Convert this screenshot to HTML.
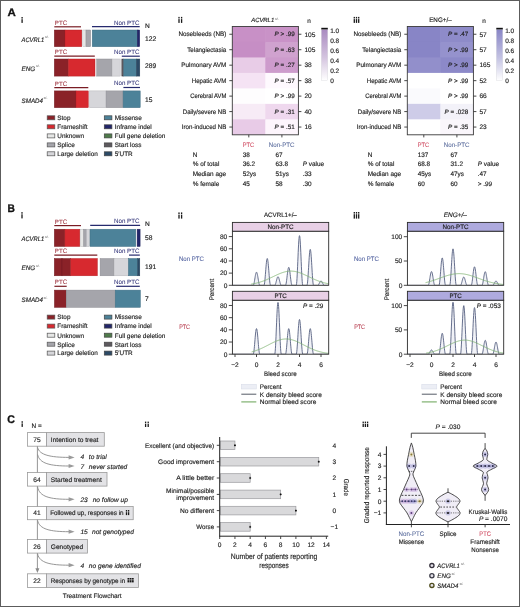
<!DOCTYPE html>
<html><head><meta charset="utf-8"><style>
html,body{margin:0;padding:0;background:#fff;}
body{width:520px;height:607px;overflow:hidden;}
svg{display:block;will-change:transform;text-rendering:geometricPrecision;font-family:"Liberation Sans", sans-serif;}
</style></head><body>
<svg width="520" height="607" viewBox="0 0 520 607">
<rect x="0" y="0" width="520" height="607" fill="#ffffff"/>
<text x="7.40" y="15.70" font-size="11.0" font-weight="bold" fill="#111" stroke="#111" stroke-width="0.3" textLength="8.3" lengthAdjust="spacingAndGlyphs">A</text>
<text x="7.60" y="212.20" font-size="11.0" font-weight="bold" fill="#111" stroke="#111" stroke-width="0.3" textLength="7.4" lengthAdjust="spacingAndGlyphs">B</text>
<text x="7.20" y="422.60" font-size="11.0" font-weight="bold" fill="#111" stroke="#111" stroke-width="0.3" textLength="7.7" lengthAdjust="spacingAndGlyphs">C</text>
<rect x="21.45" y="17.00" width="1.30" height="1.6" fill="#1a1a1a"/>
<rect x="21.45" y="19.20" width="1.30" height="3.70" fill="#1a1a1a"/>
<rect x="21.35" y="212.10" width="1.30" height="1.6" fill="#1a1a1a"/>
<rect x="21.35" y="214.30" width="1.30" height="4.10" fill="#1a1a1a"/>
<rect x="21.55" y="421.20" width="1.30" height="1.6" fill="#1a1a1a"/>
<rect x="21.55" y="423.40" width="1.30" height="3.50" fill="#1a1a1a"/>
<rect x="178.35" y="16.90" width="1.30" height="1.6" fill="#1a1a1a"/>
<rect x="178.35" y="19.10" width="1.30" height="3.80" fill="#1a1a1a"/>
<rect x="180.95" y="16.90" width="1.30" height="1.6" fill="#1a1a1a"/>
<rect x="180.95" y="19.10" width="1.30" height="3.80" fill="#1a1a1a"/>
<rect x="353.65" y="16.90" width="1.30" height="1.6" fill="#1a1a1a"/>
<rect x="353.65" y="19.10" width="1.30" height="3.80" fill="#1a1a1a"/>
<rect x="355.85" y="16.90" width="1.30" height="1.6" fill="#1a1a1a"/>
<rect x="355.85" y="19.10" width="1.30" height="3.80" fill="#1a1a1a"/>
<rect x="358.05" y="16.90" width="1.30" height="1.6" fill="#1a1a1a"/>
<rect x="358.05" y="19.10" width="1.30" height="3.80" fill="#1a1a1a"/>
<rect x="178.35" y="212.40" width="1.30" height="1.6" fill="#1a1a1a"/>
<rect x="178.35" y="214.60" width="1.30" height="4.00" fill="#1a1a1a"/>
<rect x="180.95" y="212.40" width="1.30" height="1.6" fill="#1a1a1a"/>
<rect x="180.95" y="214.60" width="1.30" height="4.00" fill="#1a1a1a"/>
<rect x="353.65" y="212.00" width="1.30" height="1.6" fill="#1a1a1a"/>
<rect x="353.65" y="214.20" width="1.30" height="4.40" fill="#1a1a1a"/>
<rect x="355.85" y="212.00" width="1.30" height="1.6" fill="#1a1a1a"/>
<rect x="355.85" y="214.20" width="1.30" height="4.40" fill="#1a1a1a"/>
<rect x="358.05" y="212.00" width="1.30" height="1.6" fill="#1a1a1a"/>
<rect x="358.05" y="214.20" width="1.30" height="4.40" fill="#1a1a1a"/>
<rect x="144.95" y="421.60" width="1.30" height="1.6" fill="#1a1a1a"/>
<rect x="144.95" y="423.80" width="1.30" height="3.20" fill="#1a1a1a"/>
<rect x="147.55" y="421.60" width="1.30" height="1.6" fill="#1a1a1a"/>
<rect x="147.55" y="423.80" width="1.30" height="3.20" fill="#1a1a1a"/>
<rect x="362.55" y="421.60" width="1.30" height="1.6" fill="#1a1a1a"/>
<rect x="362.55" y="423.80" width="1.30" height="3.20" fill="#1a1a1a"/>
<rect x="364.75" y="421.60" width="1.30" height="1.6" fill="#1a1a1a"/>
<rect x="364.75" y="423.80" width="1.30" height="3.20" fill="#1a1a1a"/>
<rect x="366.95" y="421.60" width="1.30" height="1.6" fill="#1a1a1a"/>
<rect x="366.95" y="423.80" width="1.30" height="3.20" fill="#1a1a1a"/>
<text x="21.50" y="41.65" font-size="6.4" fill="#1e1e1e" font-style="italic" textLength="22.70" lengthAdjust="spacingAndGlyphs" stroke="#1e1e1e" stroke-width="0.15">ACVRL1</text>
<text x="45.00" y="38.15" font-size="3.0" fill="#555" font-style="italic" stroke="#555" stroke-width="0.08">+/-</text>
<rect x="54.30" y="30.00" width="10.70" height="16.70" fill="#8a2228" stroke="#6e1a1f" stroke-width="0.45"/>
<rect x="65.00" y="30.00" width="16.80" height="16.70" fill="#d7292f" stroke="#b32227" stroke-width="0.45"/>
<rect x="82.80" y="30.00" width="3.20" height="16.70" fill="#e6e7e6" stroke="#b8b8b8" stroke-width="0.45"/>
<rect x="86.00" y="30.00" width="4.70" height="16.70" fill="#a5a5ab" stroke="#8a8a90" stroke-width="0.45"/>
<rect x="92.20" y="30.00" width="45.10" height="16.70" fill="#4c8299" stroke="#3d6b80" stroke-width="0.45"/>
<rect x="137.30" y="30.00" width="2.40" height="16.70" fill="#22266a" stroke="#181b55" stroke-width="0.45"/>
<line x1="54.30" y1="26.80" x2="81.00" y2="26.80" stroke="#7a1c24" stroke-width="1.2"/>
<text x="54.80" y="24.70" font-size="6.3" text-anchor="start" fill="#a23a44" textLength="12.30" lengthAdjust="spacingAndGlyphs" stroke="#a23a44" stroke-width="0.08">PTC</text>
<line x1="92.00" y1="26.60" x2="139.70" y2="26.60" stroke="#262a6e" stroke-width="1.2"/>
<text x="139.40" y="24.50" font-size="6.3" text-anchor="end" fill="#3e4080" textLength="25.40" lengthAdjust="spacingAndGlyphs" stroke="#3e4080" stroke-width="0.08">Non PTC</text>
<text x="145.00" y="40.65" font-size="6.7" text-anchor="start" fill="#1e1e1e" stroke="#1e1e1e" stroke-width="0.15">122</text>
<text x="21.60" y="70.85" font-size="6.4" fill="#1e1e1e" font-style="italic" textLength="13.60" lengthAdjust="spacingAndGlyphs" stroke="#1e1e1e" stroke-width="0.15">ENG</text>
<text x="36.00" y="67.35" font-size="3.0" fill="#555" font-style="italic" stroke="#555" stroke-width="0.08">+/-</text>
<rect x="54.30" y="59.00" width="14.00" height="17.10" fill="#8a2228" stroke="#6e1a1f" stroke-width="0.45"/>
<rect x="68.30" y="59.00" width="26.70" height="17.10" fill="#d7292f" stroke="#b32227" stroke-width="0.45"/>
<rect x="96.70" y="59.00" width="15.30" height="17.10" fill="#a5a5ab" stroke="#8a8a90" stroke-width="0.45"/>
<rect x="112.00" y="59.00" width="8.20" height="17.10" fill="#d6d6da" stroke="#b0b0b4" stroke-width="0.45"/>
<rect x="121.80" y="59.00" width="1.80" height="17.10" fill="#5d595e" stroke="#4a474b" stroke-width="0.45"/>
<rect x="123.60" y="59.00" width="12.90" height="17.10" fill="#4c8299" stroke="#3d6b80" stroke-width="0.45"/>
<rect x="136.50" y="59.00" width="3.30" height="17.10" fill="#2c4a66" stroke="#213a52" stroke-width="0.45"/>
<line x1="54.30" y1="56.20" x2="94.80" y2="56.20" stroke="#7a1c24" stroke-width="1.2"/>
<text x="54.80" y="54.10" font-size="6.3" text-anchor="start" fill="#a23a44" textLength="12.30" lengthAdjust="spacingAndGlyphs" stroke="#a23a44" stroke-width="0.08">PTC</text>
<line x1="121.80" y1="56.20" x2="139.80" y2="56.20" stroke="#262a6e" stroke-width="1.2"/>
<text x="139.40" y="54.10" font-size="6.3" text-anchor="end" fill="#3e4080" textLength="25.40" lengthAdjust="spacingAndGlyphs" stroke="#3e4080" stroke-width="0.08">Non PTC</text>
<text x="145.00" y="67.85" font-size="6.7" text-anchor="start" fill="#1e1e1e" stroke="#1e1e1e" stroke-width="0.15">289</text>
<text x="21.60" y="102.60" font-size="6.4" fill="#1e1e1e" font-style="italic" textLength="21.40" lengthAdjust="spacingAndGlyphs" stroke="#1e1e1e" stroke-width="0.15">SMAD4</text>
<text x="43.60" y="99.10" font-size="3.0" fill="#555" font-style="italic" stroke="#555" stroke-width="0.08">+/-</text>
<rect x="54.30" y="90.90" width="21.70" height="16.80" fill="#8a2228" stroke="#6e1a1f" stroke-width="0.45"/>
<rect x="76.00" y="90.90" width="12.30" height="16.80" fill="#d7292f" stroke="#b32227" stroke-width="0.45"/>
<rect x="89.70" y="90.90" width="16.40" height="16.80" fill="#d6d6da" stroke="#b0b0b4" stroke-width="0.45"/>
<rect x="106.10" y="90.90" width="17.00" height="16.80" fill="#a5a5ab" stroke="#8a8a90" stroke-width="0.45"/>
<rect x="123.10" y="90.90" width="17.10" height="16.80" fill="#4c8299" stroke="#3d6b80" stroke-width="0.45"/>
<line x1="54.30" y1="87.70" x2="88.30" y2="87.70" stroke="#7a1c24" stroke-width="1.2"/>
<text x="54.80" y="85.60" font-size="6.3" text-anchor="start" fill="#a23a44" textLength="12.30" lengthAdjust="spacingAndGlyphs" stroke="#a23a44" stroke-width="0.08">PTC</text>
<line x1="123.40" y1="87.50" x2="140.00" y2="87.50" stroke="#262a6e" stroke-width="1.2"/>
<text x="139.40" y="85.40" font-size="6.3" text-anchor="end" fill="#3e4080" textLength="25.40" lengthAdjust="spacingAndGlyphs" stroke="#3e4080" stroke-width="0.08">Non PTC</text>
<text x="145.00" y="101.60" font-size="6.7" text-anchor="start" fill="#1e1e1e" stroke="#1e1e1e" stroke-width="0.15">15</text>
<text x="145.10" y="28.00" font-size="6.6" text-anchor="start" fill="#1e1e1e" stroke="#1e1e1e" stroke-width="0.15">N</text>
<rect x="47.20" y="115.80" width="7.60" height="4.00" fill="#8a2228" stroke="#555" stroke-width="0.7"/>
<text x="57.30" y="120.10" font-size="6.4" text-anchor="start" fill="#1e1e1e" stroke="#1e1e1e" stroke-width="0.15">Stop</text>
<rect x="47.20" y="124.80" width="7.60" height="4.00" fill="#d7292f" stroke="#555" stroke-width="0.7"/>
<text x="57.30" y="129.10" font-size="6.4" text-anchor="start" fill="#1e1e1e" stroke="#1e1e1e" stroke-width="0.15">Frameshift</text>
<rect x="47.20" y="133.90" width="7.60" height="4.00" fill="#e6e7e6" stroke="#555" stroke-width="0.7"/>
<text x="57.30" y="138.20" font-size="6.4" text-anchor="start" fill="#1e1e1e" stroke="#1e1e1e" stroke-width="0.15">Unknown</text>
<rect x="47.20" y="142.90" width="7.60" height="4.00" fill="#a5a5ab" stroke="#555" stroke-width="0.7"/>
<text x="57.30" y="147.20" font-size="6.4" text-anchor="start" fill="#1e1e1e" stroke="#1e1e1e" stroke-width="0.15">Splice</text>
<rect x="47.20" y="151.80" width="7.60" height="4.00" fill="#d6d6da" stroke="#555" stroke-width="0.7"/>
<text x="57.30" y="156.10" font-size="6.4" text-anchor="start" fill="#1e1e1e" stroke="#1e1e1e" stroke-width="0.15">Large deletion</text>
<rect x="104.30" y="115.80" width="7.60" height="4.00" fill="#4c8299" stroke="#444" stroke-width="0.7"/>
<text x="114.80" y="120.10" font-size="6.4" text-anchor="start" fill="#1e1e1e" stroke="#1e1e1e" stroke-width="0.15">Missense</text>
<rect x="104.30" y="124.80" width="7.60" height="4.00" fill="#22266a" stroke="#444" stroke-width="0.7"/>
<text x="114.80" y="129.10" font-size="6.4" text-anchor="start" fill="#1e1e1e" stroke="#1e1e1e" stroke-width="0.15">Inframe indel</text>
<rect x="104.30" y="133.90" width="7.60" height="4.00" fill="#4f7b4b" stroke="#444" stroke-width="0.7"/>
<text x="114.80" y="138.20" font-size="6.4" text-anchor="start" fill="#1e1e1e" stroke="#1e1e1e" stroke-width="0.15">Full gene deletion</text>
<rect x="104.30" y="142.90" width="7.60" height="4.00" fill="#5d595e" stroke="#444" stroke-width="0.7"/>
<text x="114.80" y="147.20" font-size="6.4" text-anchor="start" fill="#1e1e1e" stroke="#1e1e1e" stroke-width="0.15">Start loss</text>
<rect x="104.30" y="151.80" width="7.60" height="4.00" fill="#2c4a66" stroke="#444" stroke-width="0.7"/>
<text x="114.80" y="156.10" font-size="6.4" text-anchor="start" fill="#1e1e1e" stroke="#1e1e1e" stroke-width="0.15">5′UTR</text>
<text x="21.50" y="241.15" font-size="6.4" fill="#1e1e1e" font-style="italic" textLength="22.70" lengthAdjust="spacingAndGlyphs" stroke="#1e1e1e" stroke-width="0.15">ACVRL1</text>
<text x="45.00" y="237.65" font-size="3.0" fill="#555" font-style="italic" stroke="#555" stroke-width="0.08">+/-</text>
<rect x="54.30" y="229.20" width="10.60" height="17.30" fill="#8a2228" stroke="#6e1a1f" stroke-width="0.45"/>
<rect x="64.90" y="229.20" width="14.90" height="17.30" fill="#d7292f" stroke="#b32227" stroke-width="0.45"/>
<rect x="80.50" y="229.20" width="3.20" height="17.30" fill="#e6e7e6" stroke="#b8b8b8" stroke-width="0.45"/>
<rect x="83.70" y="229.20" width="2.80" height="17.30" fill="#a5a5ab" stroke="#8a8a90" stroke-width="0.45"/>
<rect x="86.50" y="229.20" width="3.00" height="17.30" fill="#d6d6da" stroke="#b0b0b4" stroke-width="0.45"/>
<rect x="90.00" y="229.20" width="45.80" height="17.30" fill="#4c8299" stroke="#3d6b80" stroke-width="0.45"/>
<rect x="137.10" y="229.20" width="3.00" height="17.30" fill="#22266a" stroke="#181b55" stroke-width="0.45"/>
<line x1="54.30" y1="225.60" x2="81.00" y2="225.60" stroke="#7a1c24" stroke-width="1.2"/>
<text x="54.80" y="223.50" font-size="6.3" text-anchor="start" fill="#a23a44" textLength="12.30" lengthAdjust="spacingAndGlyphs" stroke="#a23a44" stroke-width="0.08">PTC</text>
<line x1="90.20" y1="225.30" x2="140.10" y2="225.30" stroke="#262a6e" stroke-width="1.2"/>
<text x="139.40" y="223.20" font-size="6.3" text-anchor="end" fill="#3e4080" textLength="25.40" lengthAdjust="spacingAndGlyphs" stroke="#3e4080" stroke-width="0.08">Non PTC</text>
<text x="145.00" y="240.15" font-size="6.7" text-anchor="start" fill="#1e1e1e" stroke="#1e1e1e" stroke-width="0.15">58</text>
<text x="21.60" y="270.45" font-size="6.4" fill="#1e1e1e" font-style="italic" textLength="13.60" lengthAdjust="spacingAndGlyphs" stroke="#1e1e1e" stroke-width="0.15">ENG</text>
<text x="36.00" y="266.95" font-size="3.0" fill="#555" font-style="italic" stroke="#555" stroke-width="0.08">+/-</text>
<rect x="54.30" y="258.50" width="7.70" height="17.30" fill="#8a2228" stroke="#6e1a1f" stroke-width="0.45"/>
<rect x="62.00" y="258.50" width="8.70" height="17.30" fill="#8a2228" stroke="#6e1a1f" stroke-width="0.45"/>
<rect x="70.70" y="258.50" width="26.70" height="17.30" fill="#d7292f" stroke="#b32227" stroke-width="0.45"/>
<rect x="100.10" y="258.50" width="13.90" height="17.30" fill="#a5a5ab" stroke="#8a8a90" stroke-width="0.45"/>
<rect x="114.00" y="258.50" width="14.40" height="17.30" fill="#d6d6da" stroke="#b0b0b4" stroke-width="0.45"/>
<rect x="128.40" y="258.50" width="9.40" height="17.30" fill="#4c8299" stroke="#3d6b80" stroke-width="0.45"/>
<rect x="137.80" y="258.50" width="2.00" height="17.30" fill="#2c4a66" stroke="#213a52" stroke-width="0.45"/>
<line x1="54.30" y1="255.10" x2="97.30" y2="255.10" stroke="#7a1c24" stroke-width="1.2"/>
<text x="54.80" y="253.00" font-size="6.3" text-anchor="start" fill="#a23a44" textLength="12.30" lengthAdjust="spacingAndGlyphs" stroke="#a23a44" stroke-width="0.08">PTC</text>
<line x1="129.00" y1="255.10" x2="139.80" y2="255.10" stroke="#262a6e" stroke-width="1.2"/>
<text x="139.40" y="253.00" font-size="6.3" text-anchor="end" fill="#3e4080" textLength="25.40" lengthAdjust="spacingAndGlyphs" stroke="#3e4080" stroke-width="0.08">Non PTC</text>
<text x="145.00" y="268.95" font-size="6.7" text-anchor="start" fill="#1e1e1e" stroke="#1e1e1e" stroke-width="0.15">191</text>
<text x="21.60" y="302.05" font-size="6.4" fill="#1e1e1e" font-style="italic" textLength="21.40" lengthAdjust="spacingAndGlyphs" stroke="#1e1e1e" stroke-width="0.15">SMAD4</text>
<text x="43.60" y="298.55" font-size="3.0" fill="#555" font-style="italic" stroke="#555" stroke-width="0.08">+/-</text>
<rect x="54.40" y="290.10" width="11.80" height="17.30" fill="#8a2228" stroke="#6e1a1f" stroke-width="0.45"/>
<rect x="66.20" y="290.10" width="49.00" height="17.30" fill="#a5a5ab" stroke="#8a8a90" stroke-width="0.45"/>
<rect x="115.20" y="290.10" width="25.20" height="17.30" fill="#4c8299" stroke="#3d6b80" stroke-width="0.45"/>
<line x1="54.40" y1="286.30" x2="66.70" y2="286.30" stroke="#7a1c24" stroke-width="1.2"/>
<text x="54.80" y="284.20" font-size="6.3" text-anchor="start" fill="#a23a44" textLength="12.30" lengthAdjust="spacingAndGlyphs" stroke="#a23a44" stroke-width="0.08">PTC</text>
<line x1="116.20" y1="286.30" x2="139.80" y2="286.30" stroke="#262a6e" stroke-width="1.2"/>
<text x="139.40" y="284.20" font-size="6.3" text-anchor="end" fill="#3e4080" textLength="25.40" lengthAdjust="spacingAndGlyphs" stroke="#3e4080" stroke-width="0.08">Non PTC</text>
<text x="145.00" y="301.05" font-size="6.7" text-anchor="start" fill="#1e1e1e" stroke="#1e1e1e" stroke-width="0.15">7</text>
<text x="145.10" y="225.50" font-size="6.6" text-anchor="start" fill="#1e1e1e" stroke="#1e1e1e" stroke-width="0.15">N</text>
<rect x="47.20" y="315.10" width="7.60" height="4.00" fill="#8a2228" stroke="#555" stroke-width="0.7"/>
<text x="57.30" y="319.40" font-size="6.4" text-anchor="start" fill="#1e1e1e" stroke="#1e1e1e" stroke-width="0.15">Stop</text>
<rect x="47.20" y="324.10" width="7.60" height="4.00" fill="#d7292f" stroke="#555" stroke-width="0.7"/>
<text x="57.30" y="328.40" font-size="6.4" text-anchor="start" fill="#1e1e1e" stroke="#1e1e1e" stroke-width="0.15">Frameshift</text>
<rect x="47.20" y="333.20" width="7.60" height="4.00" fill="#e6e7e6" stroke="#555" stroke-width="0.7"/>
<text x="57.30" y="337.50" font-size="6.4" text-anchor="start" fill="#1e1e1e" stroke="#1e1e1e" stroke-width="0.15">Unknown</text>
<rect x="47.20" y="342.20" width="7.60" height="4.00" fill="#a5a5ab" stroke="#555" stroke-width="0.7"/>
<text x="57.30" y="346.50" font-size="6.4" text-anchor="start" fill="#1e1e1e" stroke="#1e1e1e" stroke-width="0.15">Splice</text>
<rect x="47.20" y="351.10" width="7.60" height="4.00" fill="#d6d6da" stroke="#555" stroke-width="0.7"/>
<text x="57.30" y="355.40" font-size="6.4" text-anchor="start" fill="#1e1e1e" stroke="#1e1e1e" stroke-width="0.15">Large deletion</text>
<rect x="104.30" y="315.10" width="7.60" height="4.00" fill="#4c8299" stroke="#444" stroke-width="0.7"/>
<text x="114.80" y="319.40" font-size="6.4" text-anchor="start" fill="#1e1e1e" stroke="#1e1e1e" stroke-width="0.15">Missense</text>
<rect x="104.30" y="324.10" width="7.60" height="4.00" fill="#22266a" stroke="#444" stroke-width="0.7"/>
<text x="114.80" y="328.40" font-size="6.4" text-anchor="start" fill="#1e1e1e" stroke="#1e1e1e" stroke-width="0.15">Inframe indel</text>
<rect x="104.30" y="333.20" width="7.60" height="4.00" fill="#4f7b4b" stroke="#444" stroke-width="0.7"/>
<text x="114.80" y="337.50" font-size="6.4" text-anchor="start" fill="#1e1e1e" stroke="#1e1e1e" stroke-width="0.15">Full gene deletion</text>
<rect x="104.30" y="342.20" width="7.60" height="4.00" fill="#5d595e" stroke="#444" stroke-width="0.7"/>
<text x="114.80" y="346.50" font-size="6.4" text-anchor="start" fill="#1e1e1e" stroke="#1e1e1e" stroke-width="0.15">Start loss</text>
<rect x="104.30" y="351.10" width="7.60" height="4.00" fill="#2c4a66" stroke="#444" stroke-width="0.7"/>
<text x="114.80" y="355.40" font-size="6.4" text-anchor="start" fill="#1e1e1e" stroke="#1e1e1e" stroke-width="0.15">5′UTR</text>
<rect x="232.30" y="26.50" width="33.60" height="16.07" fill="#c890c6"/>
<rect x="265.30" y="26.50" width="33.10" height="16.07" fill="#c992c7"/>
<rect x="232.30" y="41.97" width="33.60" height="16.07" fill="#c68ec5"/>
<rect x="265.30" y="41.97" width="33.10" height="16.07" fill="#d0a2cf"/>
<rect x="232.30" y="57.44" width="33.60" height="16.07" fill="#e8cce7"/>
<rect x="265.30" y="57.44" width="33.10" height="16.07" fill="#cd9bcc"/>
<rect x="232.30" y="72.91" width="33.60" height="16.07" fill="#f5e3f4"/>
<rect x="265.30" y="72.91" width="33.10" height="16.07" fill="#fef9fe"/>
<rect x="232.30" y="88.39" width="33.60" height="16.07" fill="#fefdfe"/>
<rect x="265.30" y="88.39" width="33.10" height="16.07" fill="#ffffff"/>
<rect x="232.30" y="103.86" width="33.60" height="16.07" fill="#f7ebf6"/>
<rect x="265.30" y="103.86" width="33.10" height="16.07" fill="#efd8ee"/>
<rect x="232.30" y="119.33" width="33.60" height="15.47" fill="#e8cbe7"/>
<rect x="265.30" y="119.33" width="33.10" height="15.47" fill="#fdf5fc"/>
<rect x="232.30" y="26.50" width="66.10" height="108.30" fill="none" stroke="#3a3a3a" stroke-width="0.9"/>
<line x1="229.30" y1="34.24" x2="232.30" y2="34.24" stroke="#333" stroke-width="0.9"/>
<line x1="298.40" y1="34.24" x2="301.40" y2="34.24" stroke="#333" stroke-width="0.9"/>
<text x="226.30" y="36.44" font-size="6.4" text-anchor="end" fill="#1e1e1e" textLength="47.90" lengthAdjust="spacingAndGlyphs" stroke="#1e1e1e" stroke-width="0.15">Nosebleeds (NB)</text>
<text x="294.70" y="36.44" font-size="6.3" text-anchor="end" fill="#1e1e1e" stroke="#1e1e1e" stroke-width="0.15"><tspan font-style="italic">P</tspan> &gt; .99</text>
<text x="304.40" y="36.54" font-size="6.6" text-anchor="start" fill="#1e1e1e" stroke="#1e1e1e" stroke-width="0.15">105</text>
<line x1="229.30" y1="49.71" x2="232.30" y2="49.71" stroke="#333" stroke-width="0.9"/>
<line x1="298.40" y1="49.71" x2="301.40" y2="49.71" stroke="#333" stroke-width="0.9"/>
<text x="226.30" y="51.91" font-size="6.4" text-anchor="end" fill="#1e1e1e" textLength="39.00" lengthAdjust="spacingAndGlyphs" stroke="#1e1e1e" stroke-width="0.15">Telangiectasia</text>
<text x="294.70" y="51.91" font-size="6.3" text-anchor="end" fill="#1e1e1e" stroke="#1e1e1e" stroke-width="0.15"><tspan font-style="italic">P</tspan> = .63</text>
<text x="304.40" y="52.01" font-size="6.6" text-anchor="start" fill="#1e1e1e" stroke="#1e1e1e" stroke-width="0.15">105</text>
<line x1="229.30" y1="65.18" x2="232.30" y2="65.18" stroke="#333" stroke-width="0.9"/>
<line x1="298.40" y1="65.18" x2="301.40" y2="65.18" stroke="#333" stroke-width="0.9"/>
<text x="226.30" y="67.38" font-size="6.4" text-anchor="end" fill="#1e1e1e" textLength="45.00" lengthAdjust="spacingAndGlyphs" stroke="#1e1e1e" stroke-width="0.15">Pulmonary AVM</text>
<text x="294.70" y="67.38" font-size="6.3" text-anchor="end" fill="#1e1e1e" stroke="#1e1e1e" stroke-width="0.15"><tspan font-style="italic">P</tspan> = .27</text>
<text x="304.40" y="67.48" font-size="6.6" text-anchor="start" fill="#1e1e1e" stroke="#1e1e1e" stroke-width="0.15">38</text>
<line x1="229.30" y1="80.65" x2="232.30" y2="80.65" stroke="#333" stroke-width="0.9"/>
<line x1="298.40" y1="80.65" x2="301.40" y2="80.65" stroke="#333" stroke-width="0.9"/>
<text x="226.30" y="82.85" font-size="6.4" text-anchor="end" fill="#1e1e1e" textLength="34.50" lengthAdjust="spacingAndGlyphs" stroke="#1e1e1e" stroke-width="0.15">Hepatic AVM</text>
<text x="294.70" y="82.85" font-size="6.3" text-anchor="end" fill="#1e1e1e" stroke="#1e1e1e" stroke-width="0.15"><tspan font-style="italic">P</tspan> = .57</text>
<text x="304.40" y="82.95" font-size="6.6" text-anchor="start" fill="#1e1e1e" stroke="#1e1e1e" stroke-width="0.15">38</text>
<line x1="229.30" y1="96.12" x2="232.30" y2="96.12" stroke="#333" stroke-width="0.9"/>
<line x1="298.40" y1="96.12" x2="301.40" y2="96.12" stroke="#333" stroke-width="0.9"/>
<text x="226.30" y="98.32" font-size="6.4" text-anchor="end" fill="#1e1e1e" textLength="36.00" lengthAdjust="spacingAndGlyphs" stroke="#1e1e1e" stroke-width="0.15">Cerebral AVM</text>
<text x="294.70" y="98.32" font-size="6.3" text-anchor="end" fill="#1e1e1e" stroke="#1e1e1e" stroke-width="0.15"><tspan font-style="italic">P</tspan> &gt; .99</text>
<text x="304.40" y="98.42" font-size="6.6" text-anchor="start" fill="#1e1e1e" stroke="#1e1e1e" stroke-width="0.15">20</text>
<line x1="229.30" y1="111.59" x2="232.30" y2="111.59" stroke="#333" stroke-width="0.9"/>
<line x1="298.40" y1="111.59" x2="301.40" y2="111.59" stroke="#333" stroke-width="0.9"/>
<text x="226.30" y="113.79" font-size="6.4" text-anchor="end" fill="#1e1e1e" textLength="43.50" lengthAdjust="spacingAndGlyphs" stroke="#1e1e1e" stroke-width="0.15">Daily/severe NB</text>
<text x="294.70" y="113.79" font-size="6.3" text-anchor="end" fill="#1e1e1e" stroke="#1e1e1e" stroke-width="0.15"><tspan font-style="italic">P</tspan> = .31</text>
<text x="304.40" y="113.89" font-size="6.6" text-anchor="start" fill="#1e1e1e" stroke="#1e1e1e" stroke-width="0.15">40</text>
<line x1="229.30" y1="127.06" x2="232.30" y2="127.06" stroke="#333" stroke-width="0.9"/>
<line x1="298.40" y1="127.06" x2="301.40" y2="127.06" stroke="#333" stroke-width="0.9"/>
<text x="226.30" y="129.26" font-size="6.4" text-anchor="end" fill="#1e1e1e" textLength="44.50" lengthAdjust="spacingAndGlyphs" stroke="#1e1e1e" stroke-width="0.15">Iron-induced NB</text>
<text x="294.70" y="129.26" font-size="6.3" text-anchor="end" fill="#1e1e1e" stroke="#1e1e1e" stroke-width="0.15"><tspan font-style="italic">P</tspan> = .51</text>
<text x="304.40" y="129.36" font-size="6.6" text-anchor="start" fill="#1e1e1e" stroke="#1e1e1e" stroke-width="0.15">16</text>
<line x1="248.80" y1="134.80" x2="248.80" y2="137.40" stroke="#333" stroke-width="0.9"/>
<line x1="281.90" y1="134.80" x2="281.90" y2="137.40" stroke="#333" stroke-width="0.9"/>
<text x="251.2" y="21.9" font-size="6.0" fill="#1e1e1e" font-style="italic" textLength="23.00" lengthAdjust="spacingAndGlyphs" stroke="#1e1e1e" stroke-width="0.15">ACVRL1</text>
<text x="275.00" y="19.60" font-size="3.0" fill="#555" font-style="italic" stroke="#555" stroke-width="0.08">+/-</text>
<text x="307.30" y="23.00" font-size="6.4" text-anchor="start" fill="#1e1e1e" stroke="#1e1e1e" stroke-width="0.15">n</text>
<defs><linearGradient id="cb0" x1="0" y1="0" x2="0" y2="1"><stop offset="0" stop-color="#a98ac0"/><stop offset="0.55" stop-color="#d4c4df"/><stop offset="1" stop-color="#ffffff"/></linearGradient></defs>
<rect x="321.30" y="29.30" width="6.50" height="51.20" fill="url(#cb0)" stroke="#d8d8dc" stroke-width="0.4"/>
<rect x="321.30" y="27.80" width="6.50" height="1.60" fill="#111"/>
<text x="330.20" y="32.70" font-size="6.5" text-anchor="start" fill="#1e1e1e" stroke="#1e1e1e" stroke-width="0.15">1.0</text>
<text x="330.20" y="42.80" font-size="6.5" text-anchor="start" fill="#1e1e1e" stroke="#1e1e1e" stroke-width="0.15">0.8</text>
<text x="330.20" y="52.80" font-size="6.5" text-anchor="start" fill="#1e1e1e" stroke="#1e1e1e" stroke-width="0.15">0.6</text>
<text x="330.20" y="62.80" font-size="6.5" text-anchor="start" fill="#1e1e1e" stroke="#1e1e1e" stroke-width="0.15">0.4</text>
<text x="330.20" y="72.80" font-size="6.5" text-anchor="start" fill="#1e1e1e" stroke="#1e1e1e" stroke-width="0.15">0.2</text>
<text x="330.20" y="82.60" font-size="6.5" text-anchor="start" fill="#1e1e1e" stroke="#1e1e1e" stroke-width="0.15">0</text>
<text x="242.70" y="146.70" font-size="6.4" text-anchor="start" fill="#d04c62" textLength="11.50" lengthAdjust="spacingAndGlyphs" stroke="#d04c62" stroke-width="0.08">PTC</text>
<text x="268.80" y="146.70" font-size="6.4" text-anchor="start" fill="#5d6e9e" textLength="25.70" lengthAdjust="spacingAndGlyphs" stroke="#5d6e9e" stroke-width="0.08">Non-PTC</text>
<text x="192.70" y="156.70" font-size="6.4" text-anchor="start" fill="#1e1e1e" stroke="#1e1e1e" stroke-width="0.15">N</text>
<text x="242.70" y="156.70" font-size="6.4" text-anchor="start" fill="#1e1e1e" stroke="#1e1e1e" stroke-width="0.15">38</text>
<text x="275.50" y="156.70" font-size="6.4" text-anchor="start" fill="#1e1e1e" stroke="#1e1e1e" stroke-width="0.15">67</text>
<text x="192.70" y="166.30" font-size="6.4" text-anchor="start" fill="#1e1e1e" stroke="#1e1e1e" stroke-width="0.15">% of total</text>
<text x="242.70" y="166.30" font-size="6.4" text-anchor="start" fill="#1e1e1e" stroke="#1e1e1e" stroke-width="0.15">36.2</text>
<text x="275.50" y="166.30" font-size="6.4" text-anchor="start" fill="#1e1e1e" stroke="#1e1e1e" stroke-width="0.15">63.8</text>
<text x="192.70" y="176.30" font-size="6.4" text-anchor="start" fill="#1e1e1e" stroke="#1e1e1e" stroke-width="0.15">Median age</text>
<text x="242.70" y="176.30" font-size="6.4" text-anchor="start" fill="#1e1e1e" stroke="#1e1e1e" stroke-width="0.15">52ys</text>
<text x="275.50" y="176.30" font-size="6.4" text-anchor="start" fill="#1e1e1e" stroke="#1e1e1e" stroke-width="0.15">51ys</text>
<text x="192.70" y="186.10" font-size="6.4" text-anchor="start" fill="#1e1e1e" stroke="#1e1e1e" stroke-width="0.15">% female</text>
<text x="242.70" y="186.10" font-size="6.4" text-anchor="start" fill="#1e1e1e" stroke="#1e1e1e" stroke-width="0.15">45</text>
<text x="275.50" y="186.10" font-size="6.4" text-anchor="start" fill="#1e1e1e" stroke="#1e1e1e" stroke-width="0.15">58</text>
<text x="302.70" y="166.30" font-size="6.4" fill="#1e1e1e" stroke="#1e1e1e" stroke-width="0.15"><tspan font-style="italic">P</tspan> value</text>
<text x="302.70" y="176.30" font-size="6.4" text-anchor="start" fill="#1e1e1e" stroke="#1e1e1e" stroke-width="0.15">.33</text>
<text x="302.70" y="186.10" font-size="6.4" text-anchor="start" fill="#1e1e1e" stroke="#1e1e1e" stroke-width="0.15">.30</text>
<rect x="407.30" y="26.50" width="33.60" height="16.07" fill="#8885c6"/>
<rect x="440.30" y="26.50" width="33.10" height="16.07" fill="#8e8bc9"/>
<rect x="407.30" y="41.97" width="33.60" height="16.07" fill="#8885c6"/>
<rect x="440.30" y="41.97" width="33.10" height="16.07" fill="#9592cd"/>
<rect x="407.30" y="57.44" width="33.60" height="16.07" fill="#928fcb"/>
<rect x="440.30" y="57.44" width="33.10" height="16.07" fill="#8c89c8"/>
<rect x="407.30" y="72.91" width="33.60" height="16.07" fill="#ffffff"/>
<rect x="440.30" y="72.91" width="33.10" height="16.07" fill="#ffffff"/>
<rect x="407.30" y="88.39" width="33.60" height="16.07" fill="#fafafd"/>
<rect x="440.30" y="88.39" width="33.10" height="16.07" fill="#ffffff"/>
<rect x="407.30" y="103.86" width="33.60" height="16.07" fill="#cecce8"/>
<rect x="440.30" y="103.86" width="33.10" height="16.07" fill="#f3f2f9"/>
<rect x="407.30" y="119.33" width="33.60" height="15.47" fill="#ffffff"/>
<rect x="440.30" y="119.33" width="33.10" height="15.47" fill="#faf6fb"/>
<rect x="407.30" y="26.50" width="66.10" height="108.30" fill="none" stroke="#3a3a3a" stroke-width="0.9"/>
<line x1="404.30" y1="34.24" x2="407.30" y2="34.24" stroke="#333" stroke-width="0.9"/>
<line x1="473.40" y1="34.24" x2="476.40" y2="34.24" stroke="#333" stroke-width="0.9"/>
<text x="401.30" y="36.44" font-size="6.4" text-anchor="end" fill="#1e1e1e" textLength="47.90" lengthAdjust="spacingAndGlyphs" stroke="#1e1e1e" stroke-width="0.15">Nosebleeds (NB)</text>
<text x="468.20" y="36.44" font-size="6.3" text-anchor="end" fill="#1e1e1e" stroke="#1e1e1e" stroke-width="0.15"><tspan font-style="italic">P</tspan> = .47</text>
<text x="479.40" y="36.54" font-size="6.6" text-anchor="start" fill="#1e1e1e" stroke="#1e1e1e" stroke-width="0.15">57</text>
<line x1="404.30" y1="49.71" x2="407.30" y2="49.71" stroke="#333" stroke-width="0.9"/>
<line x1="473.40" y1="49.71" x2="476.40" y2="49.71" stroke="#333" stroke-width="0.9"/>
<text x="401.30" y="51.91" font-size="6.4" text-anchor="end" fill="#1e1e1e" textLength="39.00" lengthAdjust="spacingAndGlyphs" stroke="#1e1e1e" stroke-width="0.15">Telangiectasia</text>
<text x="468.20" y="51.91" font-size="6.3" text-anchor="end" fill="#1e1e1e" stroke="#1e1e1e" stroke-width="0.15"><tspan font-style="italic">P</tspan> &gt; .99</text>
<text x="479.40" y="52.01" font-size="6.6" text-anchor="start" fill="#1e1e1e" stroke="#1e1e1e" stroke-width="0.15">57</text>
<line x1="404.30" y1="65.18" x2="407.30" y2="65.18" stroke="#333" stroke-width="0.9"/>
<line x1="473.40" y1="65.18" x2="476.40" y2="65.18" stroke="#333" stroke-width="0.9"/>
<text x="401.30" y="67.38" font-size="6.4" text-anchor="end" fill="#1e1e1e" textLength="45.00" lengthAdjust="spacingAndGlyphs" stroke="#1e1e1e" stroke-width="0.15">Pulmonary AVM</text>
<text x="468.20" y="67.38" font-size="6.3" text-anchor="end" fill="#1e1e1e" stroke="#1e1e1e" stroke-width="0.15"><tspan font-style="italic">P</tspan> &gt; .99</text>
<text x="479.40" y="67.48" font-size="6.6" text-anchor="start" fill="#1e1e1e" stroke="#1e1e1e" stroke-width="0.15">165</text>
<line x1="404.30" y1="80.65" x2="407.30" y2="80.65" stroke="#333" stroke-width="0.9"/>
<line x1="473.40" y1="80.65" x2="476.40" y2="80.65" stroke="#333" stroke-width="0.9"/>
<text x="401.30" y="82.85" font-size="6.4" text-anchor="end" fill="#1e1e1e" textLength="34.50" lengthAdjust="spacingAndGlyphs" stroke="#1e1e1e" stroke-width="0.15">Hepatic AVM</text>
<text x="468.20" y="82.85" font-size="6.3" text-anchor="end" fill="#1e1e1e" stroke="#1e1e1e" stroke-width="0.15"><tspan font-style="italic">P</tspan> &gt; .99</text>
<text x="479.40" y="82.95" font-size="6.6" text-anchor="start" fill="#1e1e1e" stroke="#1e1e1e" stroke-width="0.15">52</text>
<line x1="404.30" y1="96.12" x2="407.30" y2="96.12" stroke="#333" stroke-width="0.9"/>
<line x1="473.40" y1="96.12" x2="476.40" y2="96.12" stroke="#333" stroke-width="0.9"/>
<text x="401.30" y="98.32" font-size="6.4" text-anchor="end" fill="#1e1e1e" textLength="36.00" lengthAdjust="spacingAndGlyphs" stroke="#1e1e1e" stroke-width="0.15">Cerebral AVM</text>
<text x="468.20" y="98.32" font-size="6.3" text-anchor="end" fill="#1e1e1e" stroke="#1e1e1e" stroke-width="0.15"><tspan font-style="italic">P</tspan> &gt; .99</text>
<text x="479.40" y="98.42" font-size="6.6" text-anchor="start" fill="#1e1e1e" stroke="#1e1e1e" stroke-width="0.15">66</text>
<line x1="404.30" y1="111.59" x2="407.30" y2="111.59" stroke="#333" stroke-width="0.9"/>
<line x1="473.40" y1="111.59" x2="476.40" y2="111.59" stroke="#333" stroke-width="0.9"/>
<text x="401.30" y="113.79" font-size="6.4" text-anchor="end" fill="#1e1e1e" textLength="43.50" lengthAdjust="spacingAndGlyphs" stroke="#1e1e1e" stroke-width="0.15">Daily/severe NB</text>
<text x="468.20" y="113.79" font-size="6.3" text-anchor="end" fill="#1e1e1e" stroke="#1e1e1e" stroke-width="0.15"><tspan font-style="italic">P</tspan> = .028</text>
<text x="479.40" y="113.89" font-size="6.6" text-anchor="start" fill="#1e1e1e" stroke="#1e1e1e" stroke-width="0.15">57</text>
<line x1="404.30" y1="127.06" x2="407.30" y2="127.06" stroke="#333" stroke-width="0.9"/>
<line x1="473.40" y1="127.06" x2="476.40" y2="127.06" stroke="#333" stroke-width="0.9"/>
<text x="401.30" y="129.26" font-size="6.4" text-anchor="end" fill="#1e1e1e" textLength="44.50" lengthAdjust="spacingAndGlyphs" stroke="#1e1e1e" stroke-width="0.15">Iron-induced NB</text>
<text x="468.20" y="129.26" font-size="6.3" text-anchor="end" fill="#1e1e1e" stroke="#1e1e1e" stroke-width="0.15"><tspan font-style="italic">P</tspan> = .35</text>
<text x="479.40" y="129.36" font-size="6.6" text-anchor="start" fill="#1e1e1e" stroke="#1e1e1e" stroke-width="0.15">23</text>
<line x1="423.80" y1="134.80" x2="423.80" y2="137.40" stroke="#333" stroke-width="0.9"/>
<line x1="456.90" y1="134.80" x2="456.90" y2="137.40" stroke="#333" stroke-width="0.9"/>
<text x="429.2" y="22.0" font-size="6.6" fill="#1e1e1e" textLength="22.5" lengthAdjust="spacingAndGlyphs" stroke="#1e1e1e" stroke-width="0.15">ENG+/–</text>
<text x="482.30" y="23.00" font-size="6.4" text-anchor="start" fill="#1e1e1e" stroke="#1e1e1e" stroke-width="0.15">n</text>
<defs><linearGradient id="cb175" x1="0" y1="0" x2="0" y2="1"><stop offset="0" stop-color="#8885c6"/><stop offset="0.55" stop-color="#c3c2e2"/><stop offset="1" stop-color="#ffffff"/></linearGradient></defs>
<rect x="496.30" y="29.30" width="6.50" height="51.20" fill="url(#cb175)" stroke="#d8d8dc" stroke-width="0.4"/>
<rect x="496.30" y="27.80" width="6.50" height="1.60" fill="#111"/>
<text x="505.20" y="32.70" font-size="6.5" text-anchor="start" fill="#1e1e1e" stroke="#1e1e1e" stroke-width="0.15">1.0</text>
<text x="505.20" y="42.80" font-size="6.5" text-anchor="start" fill="#1e1e1e" stroke="#1e1e1e" stroke-width="0.15">0.8</text>
<text x="505.20" y="52.80" font-size="6.5" text-anchor="start" fill="#1e1e1e" stroke="#1e1e1e" stroke-width="0.15">0.6</text>
<text x="505.20" y="62.80" font-size="6.5" text-anchor="start" fill="#1e1e1e" stroke="#1e1e1e" stroke-width="0.15">0.4</text>
<text x="505.20" y="72.80" font-size="6.5" text-anchor="start" fill="#1e1e1e" stroke="#1e1e1e" stroke-width="0.15">0.2</text>
<text x="505.20" y="82.60" font-size="6.5" text-anchor="start" fill="#1e1e1e" stroke="#1e1e1e" stroke-width="0.15">0</text>
<text x="417.70" y="146.70" font-size="6.4" text-anchor="start" fill="#d04c62" textLength="11.50" lengthAdjust="spacingAndGlyphs" stroke="#d04c62" stroke-width="0.08">PTC</text>
<text x="443.80" y="146.70" font-size="6.4" text-anchor="start" fill="#5d6e9e" textLength="25.70" lengthAdjust="spacingAndGlyphs" stroke="#5d6e9e" stroke-width="0.08">Non-PTC</text>
<text x="367.70" y="156.70" font-size="6.4" text-anchor="start" fill="#1e1e1e" stroke="#1e1e1e" stroke-width="0.15">N</text>
<text x="417.70" y="156.70" font-size="6.4" text-anchor="start" fill="#1e1e1e" stroke="#1e1e1e" stroke-width="0.15">137</text>
<text x="450.50" y="156.70" font-size="6.4" text-anchor="start" fill="#1e1e1e" stroke="#1e1e1e" stroke-width="0.15">67</text>
<text x="367.70" y="166.30" font-size="6.4" text-anchor="start" fill="#1e1e1e" stroke="#1e1e1e" stroke-width="0.15">% of total</text>
<text x="417.70" y="166.30" font-size="6.4" text-anchor="start" fill="#1e1e1e" stroke="#1e1e1e" stroke-width="0.15">68.8</text>
<text x="450.50" y="166.30" font-size="6.4" text-anchor="start" fill="#1e1e1e" stroke="#1e1e1e" stroke-width="0.15">31.2</text>
<text x="367.70" y="176.30" font-size="6.4" text-anchor="start" fill="#1e1e1e" stroke="#1e1e1e" stroke-width="0.15">Median age</text>
<text x="417.70" y="176.30" font-size="6.4" text-anchor="start" fill="#1e1e1e" stroke="#1e1e1e" stroke-width="0.15">45ys</text>
<text x="450.50" y="176.30" font-size="6.4" text-anchor="start" fill="#1e1e1e" stroke="#1e1e1e" stroke-width="0.15">47ys</text>
<text x="367.70" y="186.10" font-size="6.4" text-anchor="start" fill="#1e1e1e" stroke="#1e1e1e" stroke-width="0.15">% female</text>
<text x="417.70" y="186.10" font-size="6.4" text-anchor="start" fill="#1e1e1e" stroke="#1e1e1e" stroke-width="0.15">60</text>
<text x="450.50" y="186.10" font-size="6.4" text-anchor="start" fill="#1e1e1e" stroke="#1e1e1e" stroke-width="0.15">60</text>
<text x="477.70" y="166.30" font-size="6.4" fill="#1e1e1e" stroke="#1e1e1e" stroke-width="0.15"><tspan font-style="italic">P</tspan> value</text>
<text x="477.70" y="176.30" font-size="6.4" text-anchor="start" fill="#1e1e1e" stroke="#1e1e1e" stroke-width="0.15">.47</text>
<text x="477.70" y="186.10" font-size="6.4" text-anchor="start" fill="#1e1e1e" stroke="#1e1e1e" stroke-width="0.15">&gt; .99</text>
<defs><clipPath id="clip0222"><rect x="232.40" y="231.20" width="96.30" height="54.10"/></clipPath></defs>
<g clip-path="url(#clip0222)">
<path d="M232.40,285.30 L232.60,285.30 L232.80,285.30 L233.00,285.30 L233.20,285.30 L233.40,285.30 L233.60,285.30 L233.80,285.30 L234.00,285.30 L234.20,285.30 L234.40,285.30 L234.60,285.30 L234.80,285.30 L235.00,285.30 L235.20,285.30 L235.40,285.30 L235.60,285.30 L235.80,285.30 L236.00,285.30 L236.20,285.30 L236.40,285.30 L236.60,285.30 L236.80,285.30 L237.00,285.30 L237.20,285.30 L237.40,285.30 L237.60,285.30 L237.80,285.30 L238.00,285.30 L238.20,285.30 L238.40,285.30 L238.60,285.30 L238.80,285.30 L239.00,285.30 L239.20,285.30 L239.40,285.30 L239.60,285.30 L239.80,285.30 L240.00,285.30 L240.20,285.30 L240.40,285.30 L240.60,285.30 L240.80,285.30 L241.00,285.30 L241.20,285.30 L241.40,285.30 L241.60,285.30 L241.80,285.30 L242.00,285.30 L242.20,285.30 L242.40,285.30 L242.60,285.30 L242.80,285.30 L243.00,285.30 L243.20,285.30 L243.40,285.30 L243.60,285.30 L243.80,285.30 L244.00,285.30 L244.20,285.30 L244.40,285.30 L244.60,285.30 L244.80,285.30 L245.00,285.30 L245.20,285.30 L245.40,285.30 L245.60,285.30 L245.80,285.30 L246.00,285.30 L246.20,285.30 L246.40,285.30 L246.60,285.30 L246.80,285.30 L247.00,285.30 L247.20,285.30 L247.40,285.30 L247.60,285.30 L247.80,285.30 L248.00,285.30 L248.20,285.30 L248.40,285.30 L248.60,285.30 L248.80,285.30 L249.00,285.30 L249.20,285.30 L249.40,285.30 L249.60,285.30 L249.80,285.30 L250.00,285.30 L250.20,285.30 L250.40,285.30 L250.60,285.30 L250.80,285.30 L251.00,285.30 L251.20,285.30 L251.40,285.30 L251.60,285.30 L251.80,285.30 L252.00,285.30 L252.20,285.30 L252.40,285.30 L252.60,285.30 L252.80,285.30 L253.00,285.30 L253.20,285.30 L253.40,285.18 L253.60,284.83 L253.80,284.26 L254.00,283.49 L254.20,282.55 L254.40,281.47 L254.60,280.30 L254.80,279.06 L255.00,277.82 L255.20,276.61 L255.40,275.48 L255.60,274.47 L255.80,273.61 L256.00,272.93 L256.20,272.47 L256.40,272.24 L256.60,272.24 L256.80,272.47 L257.00,272.93 L257.20,273.61 L257.40,274.47 L257.60,275.48 L257.80,276.61 L258.00,277.82 L258.20,279.06 L258.40,280.30 L258.60,281.47 L258.80,282.55 L259.00,283.49 L259.20,284.26 L259.40,284.83 L259.60,285.18 L259.80,285.30 L260.00,285.30 L260.20,285.30 L260.40,285.30 L260.60,285.30 L260.80,285.30 L261.00,285.30 L261.20,285.30 L261.40,285.30 L261.60,285.30 L261.80,285.30 L262.00,285.30 L262.20,285.30 L262.40,285.30 L262.60,285.30 L262.80,285.30 L263.00,285.30 L263.20,285.30 L263.40,285.30 L263.60,285.30 L263.80,285.30 L264.00,285.28 L264.20,284.92 L264.40,284.09 L264.60,282.82 L264.80,281.15 L265.00,279.15 L265.20,276.88 L265.40,274.44 L265.60,271.90 L265.80,269.37 L266.00,266.92 L266.20,264.66 L266.40,262.66 L266.60,260.99 L266.80,259.71 L267.00,258.88 L267.20,258.52 L267.40,258.64 L267.60,259.24 L267.80,260.30 L268.00,261.78 L268.20,263.62 L268.40,265.76 L268.60,268.13 L268.80,270.63 L269.00,273.18 L269.20,275.68 L269.40,278.04 L269.60,280.18 L269.80,282.03 L270.00,283.51 L270.20,284.56 L270.40,285.16 L270.60,285.30 L270.80,285.30 L271.00,285.30 L271.20,285.30 L271.40,285.30 L271.60,285.30 L271.80,285.30 L272.00,285.30 L272.20,285.30 L272.40,285.30 L272.60,285.30 L272.80,285.30 L273.00,285.30 L273.20,285.30 L273.40,285.30 L273.60,285.30 L273.80,285.30 L274.00,285.30 L274.20,285.30 L274.40,285.30 L274.60,285.30 L274.80,285.28 L275.00,285.13 L275.20,284.83 L275.40,284.39 L275.60,283.83 L275.80,283.17 L276.00,282.43 L276.20,281.64 L276.40,280.83 L276.60,280.03 L276.80,279.27 L277.00,278.56 L277.20,277.95 L277.40,277.45 L277.60,277.08 L277.80,276.85 L278.00,276.77 L278.20,276.85 L278.40,277.08 L278.60,277.45 L278.80,277.95 L279.00,278.56 L279.20,279.27 L279.40,280.03 L279.60,280.83 L279.80,281.64 L280.00,282.43 L280.20,283.17 L280.40,283.83 L280.60,284.39 L280.80,284.83 L281.00,285.13 L281.20,285.28 L281.40,285.30 L281.60,285.30 L281.80,285.30 L282.00,285.30 L282.20,285.30 L282.40,285.30 L282.60,285.30 L282.80,285.30 L283.00,285.30 L283.20,285.30 L283.40,285.30 L283.60,285.30 L283.80,285.30 L284.00,285.30 L284.20,285.30 L284.40,285.30 L284.60,285.30 L284.80,285.30 L285.00,285.30 L285.20,285.30 L285.40,285.30 L285.60,285.21 L285.80,284.81 L286.00,284.10 L286.20,283.11 L286.40,281.87 L286.60,280.43 L286.80,278.85 L287.00,277.17 L287.20,275.46 L287.40,273.79 L287.60,272.20 L287.80,270.76 L288.00,269.53 L288.20,268.54 L288.40,267.83 L288.60,267.43 L288.80,267.34 L289.00,267.59 L289.20,268.15 L289.40,269.00 L289.60,270.12 L289.80,271.46 L290.00,272.98 L290.20,274.62 L290.40,276.32 L290.60,278.02 L290.80,279.66 L291.00,281.17 L291.20,282.52 L291.40,283.63 L291.60,284.49 L291.80,285.05 L292.00,285.29 L292.20,285.30 L292.40,285.30 L292.60,285.30 L292.80,285.30 L293.00,285.30 L293.20,285.30 L293.40,285.30 L293.60,285.30 L293.80,285.30 L294.00,285.30 L294.20,285.30 L294.40,285.30 L294.60,285.30 L294.80,285.30 L295.00,285.30 L295.20,285.30 L295.40,285.30 L295.60,285.30 L295.80,285.30 L296.00,285.30 L296.20,285.30 L296.40,284.85 L296.60,283.52 L296.80,281.36 L297.00,278.44 L297.20,274.87 L297.40,270.77 L297.60,266.31 L297.80,261.64 L298.00,256.92 L298.20,252.33 L298.40,248.03 L298.60,244.18 L298.80,240.92 L299.00,238.37 L299.20,236.61 L299.40,235.72 L299.60,235.72 L299.80,236.61 L300.00,238.37 L300.20,240.92 L300.40,244.18 L300.60,248.03 L300.80,252.33 L301.00,256.92 L301.20,261.64 L301.40,266.31 L301.60,270.77 L301.80,274.87 L302.00,278.44 L302.20,281.36 L302.40,283.52 L302.60,284.85 L302.80,285.30 L303.00,285.30 L303.20,285.30 L303.40,285.30 L303.60,285.30 L303.80,285.30 L304.00,285.30 L304.20,285.30 L304.40,285.30 L304.60,285.30 L304.80,285.30 L305.00,285.30 L305.20,285.30 L305.40,285.30 L305.60,285.30 L305.80,285.30 L306.00,285.30 L306.20,285.30 L306.40,285.30 L306.60,285.30 L306.80,285.30 L307.00,285.28 L307.20,284.79 L307.40,283.68 L307.60,281.97 L307.80,279.73 L308.00,277.05 L308.20,274.01 L308.40,270.73 L308.60,267.33 L308.80,263.93 L309.00,260.66 L309.20,257.62 L309.40,254.94 L309.60,252.70 L309.80,250.99 L310.00,249.88 L310.20,249.39 L310.40,249.55 L310.60,250.36 L310.80,251.78 L311.00,253.76 L311.20,256.23 L311.40,259.10 L311.60,262.27 L311.80,265.63 L312.00,269.04 L312.20,272.40 L312.40,275.57 L312.60,278.44 L312.80,280.91 L313.00,282.89 L313.20,284.31 L313.40,285.12 L313.60,285.30 L313.80,285.30 L314.00,285.30 L314.20,285.30 L314.40,285.30 L314.60,285.30 L314.80,285.30 L315.00,285.30 L315.20,285.30 L315.40,285.30 L315.60,285.30 L315.80,285.30 L316.00,285.30 L316.20,285.30 L316.40,285.30 L316.60,285.30 L316.80,285.30 L317.00,285.30 L317.20,285.30 L317.40,285.30 L317.60,285.30 L317.80,285.29 L318.00,285.21 L318.20,285.06 L318.40,284.84 L318.60,284.56 L318.80,284.23 L319.00,283.87 L319.20,283.47 L319.40,283.07 L319.60,282.67 L319.80,282.28 L320.00,281.93 L320.20,281.63 L320.40,281.38 L320.60,281.19 L320.80,281.08 L321.00,281.04 L321.20,281.08 L321.40,281.19 L321.60,281.38 L321.80,281.63 L322.00,281.93 L322.20,282.28 L322.40,282.67 L322.60,283.07 L322.80,283.47 L323.00,283.87 L323.20,284.23 L323.40,284.56 L323.60,284.84 L323.80,285.06 L324.00,285.21 L324.20,285.29 L324.40,285.30 L324.60,285.30 L324.80,285.30 L325.00,285.30 L325.20,285.30 L325.40,285.30 L325.60,285.30 L325.80,285.30 L326.00,285.30 L326.20,285.30 L326.40,285.30 L326.60,285.30 L326.80,285.30 L327.00,285.30 L327.20,285.30 L327.40,285.30 L327.60,285.30 L327.80,285.30 L328.00,285.30 L328.20,285.30 L328.40,285.30 L328.60,285.30 L328.70,285.30 L232.40,285.30 Z" fill="#f1f2f7" stroke="none"/>
<path d="M232.40,285.30 L232.60,285.30 L232.80,285.30 L233.00,285.30 L233.20,285.30 L233.40,285.30 L233.60,285.30 L233.80,285.30 L234.00,285.30 L234.20,285.30 L234.40,285.30 L234.60,285.30 L234.80,285.30 L235.00,285.30 L235.20,285.30 L235.40,285.30 L235.60,285.30 L235.80,285.30 L236.00,285.30 L236.20,285.30 L236.40,285.30 L236.60,285.30 L236.80,285.30 L237.00,285.30 L237.20,285.30 L237.40,285.30 L237.60,285.30 L237.80,285.30 L238.00,285.30 L238.20,285.30 L238.40,285.30 L238.60,285.30 L238.80,285.30 L239.00,285.30 L239.20,285.30 L239.40,285.30 L239.60,285.30 L239.80,285.30 L240.00,285.30 L240.20,285.30 L240.40,285.30 L240.60,285.30 L240.80,285.30 L241.00,285.30 L241.20,285.30 L241.40,285.30 L241.60,285.30 L241.80,285.30 L242.00,285.30 L242.20,285.30 L242.40,285.30 L242.60,285.30 L242.80,285.30 L243.00,285.30 L243.20,285.30 L243.40,285.30 L243.60,285.30 L243.80,285.30 L244.00,285.30 L244.20,285.30 L244.40,285.30 L244.60,285.30 L244.80,285.30 L245.00,285.30 L245.20,285.30 L245.40,285.30 L245.60,285.30 L245.80,285.30 L246.00,285.30 L246.20,285.30 L246.40,285.30 L246.60,285.30 L246.80,285.30 L247.00,285.30 L247.20,285.30 L247.40,285.30 L247.60,285.30 L247.80,285.30 L248.00,285.30 L248.20,285.30 L248.40,285.30 L248.60,285.30 L248.80,285.30 L249.00,285.30 L249.20,285.30 L249.40,285.30 L249.60,285.30 L249.80,285.30 L250.00,285.30 L250.20,285.30 L250.40,285.30 L250.60,285.30 L250.80,285.30 L251.00,285.30 L251.20,285.30 L251.40,285.30 L251.60,285.30 L251.80,285.30 L252.00,285.30 L252.20,285.30 L252.40,285.30 L252.60,285.30 L252.80,285.30 L253.00,285.30 L253.20,285.30 L253.40,285.18 L253.60,284.83 L253.80,284.26 L254.00,283.49 L254.20,282.55 L254.40,281.47 L254.60,280.30 L254.80,279.06 L255.00,277.82 L255.20,276.61 L255.40,275.48 L255.60,274.47 L255.80,273.61 L256.00,272.93 L256.20,272.47 L256.40,272.24 L256.60,272.24 L256.80,272.47 L257.00,272.93 L257.20,273.61 L257.40,274.47 L257.60,275.48 L257.80,276.61 L258.00,277.82 L258.20,279.06 L258.40,280.30 L258.60,281.47 L258.80,282.55 L259.00,283.49 L259.20,284.26 L259.40,284.83 L259.60,285.18 L259.80,285.30 L260.00,285.30 L260.20,285.30 L260.40,285.30 L260.60,285.30 L260.80,285.30 L261.00,285.30 L261.20,285.30 L261.40,285.30 L261.60,285.30 L261.80,285.30 L262.00,285.30 L262.20,285.30 L262.40,285.30 L262.60,285.30 L262.80,285.30 L263.00,285.30 L263.20,285.30 L263.40,285.30 L263.60,285.30 L263.80,285.30 L264.00,285.28 L264.20,284.92 L264.40,284.09 L264.60,282.82 L264.80,281.15 L265.00,279.15 L265.20,276.88 L265.40,274.44 L265.60,271.90 L265.80,269.37 L266.00,266.92 L266.20,264.66 L266.40,262.66 L266.60,260.99 L266.80,259.71 L267.00,258.88 L267.20,258.52 L267.40,258.64 L267.60,259.24 L267.80,260.30 L268.00,261.78 L268.20,263.62 L268.40,265.76 L268.60,268.13 L268.80,270.63 L269.00,273.18 L269.20,275.68 L269.40,278.04 L269.60,280.18 L269.80,282.03 L270.00,283.51 L270.20,284.56 L270.40,285.16 L270.60,285.30 L270.80,285.30 L271.00,285.30 L271.20,285.30 L271.40,285.30 L271.60,285.30 L271.80,285.30 L272.00,285.30 L272.20,285.30 L272.40,285.30 L272.60,285.30 L272.80,285.30 L273.00,285.30 L273.20,285.30 L273.40,285.30 L273.60,285.30 L273.80,285.30 L274.00,285.30 L274.20,285.30 L274.40,285.30 L274.60,285.30 L274.80,285.28 L275.00,285.13 L275.20,284.83 L275.40,284.39 L275.60,283.83 L275.80,283.17 L276.00,282.43 L276.20,281.64 L276.40,280.83 L276.60,280.03 L276.80,279.27 L277.00,278.56 L277.20,277.95 L277.40,277.45 L277.60,277.08 L277.80,276.85 L278.00,276.77 L278.20,276.85 L278.40,277.08 L278.60,277.45 L278.80,277.95 L279.00,278.56 L279.20,279.27 L279.40,280.03 L279.60,280.83 L279.80,281.64 L280.00,282.43 L280.20,283.17 L280.40,283.83 L280.60,284.39 L280.80,284.83 L281.00,285.13 L281.20,285.28 L281.40,285.30 L281.60,285.30 L281.80,285.30 L282.00,285.30 L282.20,285.30 L282.40,285.30 L282.60,285.30 L282.80,285.30 L283.00,285.30 L283.20,285.30 L283.40,285.30 L283.60,285.30 L283.80,285.30 L284.00,285.30 L284.20,285.30 L284.40,285.30 L284.60,285.30 L284.80,285.30 L285.00,285.30 L285.20,285.30 L285.40,285.30 L285.60,285.21 L285.80,284.81 L286.00,284.10 L286.20,283.11 L286.40,281.87 L286.60,280.43 L286.80,278.85 L287.00,277.17 L287.20,275.46 L287.40,273.79 L287.60,272.20 L287.80,270.76 L288.00,269.53 L288.20,268.54 L288.40,267.83 L288.60,267.43 L288.80,267.34 L289.00,267.59 L289.20,268.15 L289.40,269.00 L289.60,270.12 L289.80,271.46 L290.00,272.98 L290.20,274.62 L290.40,276.32 L290.60,278.02 L290.80,279.66 L291.00,281.17 L291.20,282.52 L291.40,283.63 L291.60,284.49 L291.80,285.05 L292.00,285.29 L292.20,285.30 L292.40,285.30 L292.60,285.30 L292.80,285.30 L293.00,285.30 L293.20,285.30 L293.40,285.30 L293.60,285.30 L293.80,285.30 L294.00,285.30 L294.20,285.30 L294.40,285.30 L294.60,285.30 L294.80,285.30 L295.00,285.30 L295.20,285.30 L295.40,285.30 L295.60,285.30 L295.80,285.30 L296.00,285.30 L296.20,285.30 L296.40,284.85 L296.60,283.52 L296.80,281.36 L297.00,278.44 L297.20,274.87 L297.40,270.77 L297.60,266.31 L297.80,261.64 L298.00,256.92 L298.20,252.33 L298.40,248.03 L298.60,244.18 L298.80,240.92 L299.00,238.37 L299.20,236.61 L299.40,235.72 L299.60,235.72 L299.80,236.61 L300.00,238.37 L300.20,240.92 L300.40,244.18 L300.60,248.03 L300.80,252.33 L301.00,256.92 L301.20,261.64 L301.40,266.31 L301.60,270.77 L301.80,274.87 L302.00,278.44 L302.20,281.36 L302.40,283.52 L302.60,284.85 L302.80,285.30 L303.00,285.30 L303.20,285.30 L303.40,285.30 L303.60,285.30 L303.80,285.30 L304.00,285.30 L304.20,285.30 L304.40,285.30 L304.60,285.30 L304.80,285.30 L305.00,285.30 L305.20,285.30 L305.40,285.30 L305.60,285.30 L305.80,285.30 L306.00,285.30 L306.20,285.30 L306.40,285.30 L306.60,285.30 L306.80,285.30 L307.00,285.28 L307.20,284.79 L307.40,283.68 L307.60,281.97 L307.80,279.73 L308.00,277.05 L308.20,274.01 L308.40,270.73 L308.60,267.33 L308.80,263.93 L309.00,260.66 L309.20,257.62 L309.40,254.94 L309.60,252.70 L309.80,250.99 L310.00,249.88 L310.20,249.39 L310.40,249.55 L310.60,250.36 L310.80,251.78 L311.00,253.76 L311.20,256.23 L311.40,259.10 L311.60,262.27 L311.80,265.63 L312.00,269.04 L312.20,272.40 L312.40,275.57 L312.60,278.44 L312.80,280.91 L313.00,282.89 L313.20,284.31 L313.40,285.12 L313.60,285.30 L313.80,285.30 L314.00,285.30 L314.20,285.30 L314.40,285.30 L314.60,285.30 L314.80,285.30 L315.00,285.30 L315.20,285.30 L315.40,285.30 L315.60,285.30 L315.80,285.30 L316.00,285.30 L316.20,285.30 L316.40,285.30 L316.60,285.30 L316.80,285.30 L317.00,285.30 L317.20,285.30 L317.40,285.30 L317.60,285.30 L317.80,285.29 L318.00,285.21 L318.20,285.06 L318.40,284.84 L318.60,284.56 L318.80,284.23 L319.00,283.87 L319.20,283.47 L319.40,283.07 L319.60,282.67 L319.80,282.28 L320.00,281.93 L320.20,281.63 L320.40,281.38 L320.60,281.19 L320.80,281.08 L321.00,281.04 L321.20,281.08 L321.40,281.19 L321.60,281.38 L321.80,281.63 L322.00,281.93 L322.20,282.28 L322.40,282.67 L322.60,283.07 L322.80,283.47 L323.00,283.87 L323.20,284.23 L323.40,284.56 L323.60,284.84 L323.80,285.06 L324.00,285.21 L324.20,285.29 L324.40,285.30 L324.60,285.30 L324.80,285.30 L325.00,285.30 L325.20,285.30 L325.40,285.30 L325.60,285.30 L325.80,285.30 L326.00,285.30 L326.20,285.30 L326.40,285.30 L326.60,285.30 L326.80,285.30 L327.00,285.30 L327.20,285.30 L327.40,285.30 L327.60,285.30 L327.80,285.30 L328.00,285.30 L328.20,285.30 L328.40,285.30 L328.60,285.30" fill="none" stroke="#566080" stroke-width="0.9" stroke-linejoin="round"/>
<path d="M251.12,284.12 L251.66,284.03 L252.20,283.95 L252.74,283.86 L253.28,283.76 L253.81,283.66 L254.35,283.56 L254.89,283.45 L255.43,283.33 L255.96,283.21 L256.50,283.09 L257.04,282.96 L257.57,282.82 L258.11,282.68 L258.65,282.53 L259.19,282.37 L259.73,282.22 L260.26,282.05 L260.80,281.88 L261.34,281.70 L261.88,281.52 L262.41,281.33 L262.95,281.14 L263.49,280.94 L264.02,280.73 L264.56,280.53 L265.10,280.31 L265.64,280.09 L266.18,279.87 L266.71,279.64 L267.25,279.40 L267.79,279.17 L268.32,278.93 L268.86,278.68 L269.40,278.43 L269.94,278.18 L270.48,277.93 L271.01,277.67 L271.55,277.42 L272.09,277.16 L272.62,276.90 L273.16,276.64 L273.70,276.38 L274.24,276.12 L274.78,275.87 L275.31,275.61 L275.85,275.36 L276.39,275.11 L276.93,274.86 L277.46,274.61 L278.00,274.37 L278.54,274.14 L279.07,273.91 L279.61,273.68 L280.15,273.46 L280.69,273.25 L281.23,273.05 L281.76,272.85 L282.30,272.67 L282.84,272.49 L283.38,272.32 L283.91,272.16 L284.45,272.01 L284.99,271.87 L285.52,271.74 L286.06,271.62 L286.60,271.52 L287.14,271.42 L287.67,271.34 L288.21,271.27 L288.75,271.21 L289.29,271.17 L289.82,271.14 L290.36,271.12 L290.90,271.11 L291.44,271.12 L291.97,271.14 L292.51,271.17 L293.05,271.21 L293.59,271.27 L294.12,271.34 L294.66,271.42 L295.20,271.52 L295.74,271.62 L296.27,271.74 L296.81,271.87 L297.35,272.01 L297.89,272.16 L298.42,272.32 L298.96,272.49 L299.50,272.67 L300.04,272.85 L300.57,273.05 L301.11,273.25 L301.65,273.46 L302.19,273.68 L302.72,273.91 L303.26,274.14 L303.80,274.37 L304.34,274.61 L304.87,274.86 L305.41,275.11 L305.95,275.36 L306.49,275.61 L307.02,275.87 L307.56,276.12 L308.10,276.38 L308.64,276.64 L309.17,276.90 L309.71,277.16 L310.25,277.42 L310.79,277.67 L311.32,277.93 L311.86,278.18 L312.40,278.43 L312.94,278.68 L313.47,278.93 L314.01,279.17 L314.55,279.40 L315.09,279.64 L315.62,279.87 L316.16,280.09 L316.70,280.31 L317.24,280.53 L317.77,280.73 L318.31,280.94 L318.85,281.14 L319.39,281.33 L319.92,281.52 L320.46,281.70 L321.00,281.88 L321.54,282.05 L322.07,282.22 L322.61,282.37 L323.15,282.53 L323.69,282.68 L324.22,282.82 L324.76,282.96 L325.30,283.09 L325.84,283.21 L326.37,283.33 L326.91,283.45 L327.45,283.56 L327.99,283.66 L328.52,283.76" fill="none" stroke="#80b472" stroke-width="0.8"/>
</g>
<rect x="232.40" y="231.20" width="96.30" height="54.10" fill="none" stroke="#2a2a2a" stroke-width="0.9"/>
<rect x="232.40" y="222.40" width="96.30" height="8.80" fill="#e8d0e6" stroke="#2a2a2a" stroke-width="0.9"/>
<text x="280.55" y="229.10" font-size="6.4" text-anchor="middle" fill="#1e1e1e" textLength="26.00" lengthAdjust="spacingAndGlyphs" stroke="#1e1e1e" stroke-width="0.15">Non-PTC</text>
<line x1="228.80" y1="285.30" x2="232.40" y2="285.30" stroke="#333" stroke-width="0.9"/>
<text x="227.30" y="287.60" font-size="6.6" text-anchor="end" fill="#1e1e1e" stroke="#1e1e1e" stroke-width="0.15">0</text>
<line x1="228.80" y1="273.12" x2="232.40" y2="273.12" stroke="#333" stroke-width="0.9"/>
<text x="227.30" y="275.42" font-size="6.6" text-anchor="end" fill="#1e1e1e" stroke="#1e1e1e" stroke-width="0.15">20</text>
<line x1="228.80" y1="260.94" x2="232.40" y2="260.94" stroke="#333" stroke-width="0.9"/>
<text x="227.30" y="263.24" font-size="6.6" text-anchor="end" fill="#1e1e1e" stroke="#1e1e1e" stroke-width="0.15">40</text>
<line x1="228.80" y1="248.76" x2="232.40" y2="248.76" stroke="#333" stroke-width="0.9"/>
<text x="227.30" y="251.06" font-size="6.6" text-anchor="end" fill="#1e1e1e" stroke="#1e1e1e" stroke-width="0.15">60</text>
<line x1="228.80" y1="236.58" x2="232.40" y2="236.58" stroke="#333" stroke-width="0.9"/>
<text x="227.30" y="238.88" font-size="6.6" text-anchor="end" fill="#1e1e1e" stroke="#1e1e1e" stroke-width="0.15">80</text>
<defs><clipPath id="clip0291"><rect x="232.40" y="300.20" width="96.30" height="54.00"/></clipPath></defs>
<g clip-path="url(#clip0291)">
<path d="M232.40,354.20 L232.60,354.20 L232.80,354.20 L233.00,354.20 L233.20,354.20 L233.40,354.20 L233.60,354.20 L233.80,354.20 L234.00,354.20 L234.20,354.20 L234.40,354.20 L234.60,354.20 L234.80,354.20 L235.00,354.20 L235.20,354.20 L235.40,354.20 L235.60,354.20 L235.80,354.20 L236.00,354.20 L236.20,354.20 L236.40,354.20 L236.60,354.20 L236.80,354.20 L237.00,354.20 L237.20,354.20 L237.40,354.20 L237.60,354.20 L237.80,354.20 L238.00,354.20 L238.20,354.20 L238.40,354.20 L238.60,354.20 L238.80,354.20 L239.00,354.20 L239.20,354.20 L239.40,354.20 L239.60,354.20 L239.80,354.20 L240.00,354.20 L240.20,354.20 L240.40,354.20 L240.60,354.20 L240.80,354.20 L241.00,354.20 L241.20,354.20 L241.40,354.20 L241.60,354.20 L241.80,354.20 L242.00,354.20 L242.20,354.20 L242.40,354.20 L242.60,354.20 L242.80,354.20 L243.00,354.20 L243.20,354.20 L243.40,354.20 L243.60,354.20 L243.80,354.20 L244.00,354.20 L244.20,354.20 L244.40,354.20 L244.60,354.20 L244.80,354.20 L245.00,354.20 L245.20,354.20 L245.40,354.20 L245.60,354.20 L245.80,354.20 L246.00,354.20 L246.20,354.20 L246.40,354.20 L246.60,354.20 L246.80,354.20 L247.00,354.20 L247.20,354.20 L247.40,354.20 L247.60,354.20 L247.80,354.20 L248.00,354.20 L248.20,354.20 L248.40,354.20 L248.60,354.20 L248.80,354.20 L249.00,354.20 L249.20,354.20 L249.40,354.20 L249.60,354.20 L249.80,354.20 L250.00,354.20 L250.20,354.20 L250.40,354.20 L250.60,354.20 L250.80,354.20 L251.00,354.20 L251.20,354.20 L251.40,354.20 L251.60,354.20 L251.80,354.20 L252.00,354.20 L252.20,354.20 L252.40,354.20 L252.60,354.20 L252.80,354.20 L253.00,354.20 L253.20,354.20 L253.40,353.97 L253.60,353.28 L253.80,352.17 L254.00,350.67 L254.20,348.83 L254.40,346.72 L254.60,344.43 L254.80,342.02 L255.00,339.59 L255.20,337.23 L255.40,335.02 L255.60,333.04 L255.80,331.36 L256.00,330.04 L256.20,329.14 L256.40,328.68 L256.60,328.68 L256.80,329.14 L257.00,330.04 L257.20,331.36 L257.40,333.04 L257.60,335.02 L257.80,337.23 L258.00,339.59 L258.20,342.02 L258.40,344.43 L258.60,346.72 L258.80,348.83 L259.00,350.67 L259.20,352.17 L259.40,353.28 L259.60,353.97 L259.80,354.20 L260.00,354.20 L260.20,354.20 L260.40,354.20 L260.60,354.20 L260.80,354.20 L261.00,354.20 L261.20,354.20 L261.40,354.20 L261.60,354.20 L261.80,354.20 L262.00,354.20 L262.20,354.20 L262.40,354.20 L262.60,354.20 L262.80,354.20 L263.00,354.20 L263.20,354.20 L263.40,354.20 L263.60,354.20 L263.80,354.20 L264.00,354.20 L264.20,354.20 L264.40,354.20 L264.60,354.20 L264.80,354.20 L265.00,354.20 L265.20,354.20 L265.40,354.20 L265.60,354.20 L265.80,354.20 L266.00,354.20 L266.20,354.20 L266.40,354.20 L266.60,354.20 L266.80,354.20 L267.00,354.20 L267.20,354.20 L267.40,354.20 L267.60,354.20 L267.80,354.20 L268.00,354.20 L268.20,354.20 L268.40,354.20 L268.60,354.20 L268.80,354.20 L269.00,354.20 L269.20,354.20 L269.40,354.20 L269.60,354.20 L269.80,354.20 L270.00,354.20 L270.20,354.20 L270.40,354.20 L270.60,354.20 L270.80,354.20 L271.00,354.20 L271.20,354.20 L271.40,354.20 L271.60,354.20 L271.80,354.20 L272.00,354.20 L272.20,354.20 L272.40,354.20 L272.60,354.20 L272.80,354.20 L273.00,354.20 L273.20,354.20 L273.40,354.20 L273.60,354.20 L273.80,354.20 L274.00,354.20 L274.20,354.20 L274.40,354.20 L274.60,354.20 L274.80,354.08 L275.00,353.15 L275.20,351.32 L275.40,348.66 L275.60,345.27 L275.80,341.26 L276.00,336.78 L276.20,332.00 L276.40,327.09 L276.60,322.22 L276.80,317.57 L277.00,313.30 L277.20,309.59 L277.40,306.54 L277.60,304.29 L277.80,302.90 L278.00,302.44 L278.20,302.90 L278.40,304.29 L278.60,306.54 L278.80,309.59 L279.00,313.30 L279.20,317.57 L279.40,322.22 L279.60,327.09 L279.80,332.00 L280.00,336.78 L280.20,341.26 L280.40,345.27 L280.60,348.66 L280.80,351.32 L281.00,353.15 L281.20,354.08 L281.40,354.20 L281.60,354.20 L281.80,354.20 L282.00,354.20 L282.20,354.20 L282.40,354.20 L282.60,354.20 L282.80,354.20 L283.00,354.20 L283.20,354.20 L283.40,354.20 L283.60,354.20 L283.80,354.20 L284.00,354.20 L284.20,354.20 L284.40,354.20 L284.60,354.20 L284.80,354.20 L285.00,354.20 L285.20,354.20 L285.40,354.20 L285.60,354.07 L285.80,353.50 L286.00,352.49 L286.20,351.08 L286.40,349.32 L286.60,347.27 L286.80,345.01 L287.00,342.63 L287.20,340.20 L287.40,337.81 L287.60,335.55 L287.80,333.51 L288.00,331.75 L288.20,330.34 L288.40,329.33 L288.60,328.75 L288.80,328.64 L289.00,328.98 L289.20,329.78 L289.40,330.99 L289.60,332.59 L289.80,334.50 L290.00,336.66 L290.20,338.99 L290.40,341.41 L290.60,343.83 L290.80,346.16 L291.00,348.33 L291.20,350.24 L291.40,351.83 L291.60,353.04 L291.80,353.84 L292.00,354.19 L292.20,354.20 L292.40,354.20 L292.60,354.20 L292.80,354.20 L293.00,354.20 L293.20,354.20 L293.40,354.20 L293.60,354.20 L293.80,354.20 L294.00,354.20 L294.20,354.20 L294.40,354.20 L294.60,354.20 L294.80,354.20 L295.00,354.20 L295.20,354.20 L295.40,354.20 L295.60,354.20 L295.80,354.20 L296.00,354.20 L296.20,354.20 L296.40,353.89 L296.60,352.96 L296.80,351.44 L297.00,349.40 L297.20,346.91 L297.40,344.05 L297.60,340.94 L297.80,337.67 L298.00,334.37 L298.20,331.17 L298.40,328.17 L298.60,325.48 L298.80,323.20 L299.00,321.42 L299.20,320.19 L299.40,319.57 L299.60,319.57 L299.80,320.19 L300.00,321.42 L300.20,323.20 L300.40,325.48 L300.60,328.17 L300.80,331.17 L301.00,334.37 L301.20,337.67 L301.40,340.94 L301.60,344.05 L301.80,346.91 L302.00,349.40 L302.20,351.44 L302.40,352.96 L302.60,353.89 L302.80,354.20 L303.00,354.20 L303.20,354.20 L303.40,354.20 L303.60,354.20 L303.80,354.20 L304.00,354.20 L304.20,354.20 L304.40,354.20 L304.60,354.20 L304.80,354.20 L305.00,354.20 L305.20,354.20 L305.40,354.20 L305.60,354.20 L305.80,354.20 L306.00,354.20 L306.20,354.20 L306.40,354.20 L306.60,354.20 L306.80,354.20 L307.00,354.19 L307.20,353.84 L307.40,353.04 L307.60,351.83 L307.80,350.24 L308.00,348.33 L308.20,346.16 L308.40,343.83 L308.60,341.41 L308.80,338.99 L309.00,336.66 L309.20,334.50 L309.40,332.59 L309.60,330.99 L309.80,329.78 L310.00,328.98 L310.20,328.64 L310.40,328.75 L310.60,329.33 L310.80,330.34 L311.00,331.75 L311.20,333.51 L311.40,335.55 L311.60,337.81 L311.80,340.20 L312.00,342.63 L312.20,345.01 L312.40,347.27 L312.60,349.32 L312.80,351.08 L313.00,352.49 L313.20,353.50 L313.40,354.07 L313.60,354.20 L313.80,354.20 L314.00,354.20 L314.20,354.20 L314.40,354.20 L314.60,354.20 L314.80,354.20 L315.00,354.20 L315.20,354.20 L315.40,354.20 L315.60,354.20 L315.80,354.20 L316.00,354.20 L316.20,354.20 L316.40,354.20 L316.60,354.20 L316.80,354.20 L317.00,354.20 L317.20,354.20 L317.40,354.20 L317.60,354.20 L317.80,354.20 L318.00,354.20 L318.20,354.20 L318.40,354.20 L318.60,354.20 L318.80,354.20 L319.00,354.20 L319.20,354.20 L319.40,354.20 L319.60,354.20 L319.80,354.20 L320.00,354.20 L320.20,354.20 L320.40,354.20 L320.60,354.20 L320.80,354.20 L321.00,354.20 L321.20,354.20 L321.40,354.20 L321.60,354.20 L321.80,354.20 L322.00,354.20 L322.20,354.20 L322.40,354.20 L322.60,354.20 L322.80,354.20 L323.00,354.20 L323.20,354.20 L323.40,354.20 L323.60,354.20 L323.80,354.20 L324.00,354.20 L324.20,354.20 L324.40,354.20 L324.60,354.20 L324.80,354.20 L325.00,354.20 L325.20,354.20 L325.40,354.20 L325.60,354.20 L325.80,354.20 L326.00,354.20 L326.20,354.20 L326.40,354.20 L326.60,354.20 L326.80,354.20 L327.00,354.20 L327.20,354.20 L327.40,354.20 L327.60,354.20 L327.80,354.20 L328.00,354.20 L328.20,354.20 L328.40,354.20 L328.60,354.20 L328.70,354.20 L232.40,354.20 Z" fill="#f1f2f7" stroke="none"/>
<path d="M232.40,354.20 L232.60,354.20 L232.80,354.20 L233.00,354.20 L233.20,354.20 L233.40,354.20 L233.60,354.20 L233.80,354.20 L234.00,354.20 L234.20,354.20 L234.40,354.20 L234.60,354.20 L234.80,354.20 L235.00,354.20 L235.20,354.20 L235.40,354.20 L235.60,354.20 L235.80,354.20 L236.00,354.20 L236.20,354.20 L236.40,354.20 L236.60,354.20 L236.80,354.20 L237.00,354.20 L237.20,354.20 L237.40,354.20 L237.60,354.20 L237.80,354.20 L238.00,354.20 L238.20,354.20 L238.40,354.20 L238.60,354.20 L238.80,354.20 L239.00,354.20 L239.20,354.20 L239.40,354.20 L239.60,354.20 L239.80,354.20 L240.00,354.20 L240.20,354.20 L240.40,354.20 L240.60,354.20 L240.80,354.20 L241.00,354.20 L241.20,354.20 L241.40,354.20 L241.60,354.20 L241.80,354.20 L242.00,354.20 L242.20,354.20 L242.40,354.20 L242.60,354.20 L242.80,354.20 L243.00,354.20 L243.20,354.20 L243.40,354.20 L243.60,354.20 L243.80,354.20 L244.00,354.20 L244.20,354.20 L244.40,354.20 L244.60,354.20 L244.80,354.20 L245.00,354.20 L245.20,354.20 L245.40,354.20 L245.60,354.20 L245.80,354.20 L246.00,354.20 L246.20,354.20 L246.40,354.20 L246.60,354.20 L246.80,354.20 L247.00,354.20 L247.20,354.20 L247.40,354.20 L247.60,354.20 L247.80,354.20 L248.00,354.20 L248.20,354.20 L248.40,354.20 L248.60,354.20 L248.80,354.20 L249.00,354.20 L249.20,354.20 L249.40,354.20 L249.60,354.20 L249.80,354.20 L250.00,354.20 L250.20,354.20 L250.40,354.20 L250.60,354.20 L250.80,354.20 L251.00,354.20 L251.20,354.20 L251.40,354.20 L251.60,354.20 L251.80,354.20 L252.00,354.20 L252.20,354.20 L252.40,354.20 L252.60,354.20 L252.80,354.20 L253.00,354.20 L253.20,354.20 L253.40,353.97 L253.60,353.28 L253.80,352.17 L254.00,350.67 L254.20,348.83 L254.40,346.72 L254.60,344.43 L254.80,342.02 L255.00,339.59 L255.20,337.23 L255.40,335.02 L255.60,333.04 L255.80,331.36 L256.00,330.04 L256.20,329.14 L256.40,328.68 L256.60,328.68 L256.80,329.14 L257.00,330.04 L257.20,331.36 L257.40,333.04 L257.60,335.02 L257.80,337.23 L258.00,339.59 L258.20,342.02 L258.40,344.43 L258.60,346.72 L258.80,348.83 L259.00,350.67 L259.20,352.17 L259.40,353.28 L259.60,353.97 L259.80,354.20 L260.00,354.20 L260.20,354.20 L260.40,354.20 L260.60,354.20 L260.80,354.20 L261.00,354.20 L261.20,354.20 L261.40,354.20 L261.60,354.20 L261.80,354.20 L262.00,354.20 L262.20,354.20 L262.40,354.20 L262.60,354.20 L262.80,354.20 L263.00,354.20 L263.20,354.20 L263.40,354.20 L263.60,354.20 L263.80,354.20 L264.00,354.20 L264.20,354.20 L264.40,354.20 L264.60,354.20 L264.80,354.20 L265.00,354.20 L265.20,354.20 L265.40,354.20 L265.60,354.20 L265.80,354.20 L266.00,354.20 L266.20,354.20 L266.40,354.20 L266.60,354.20 L266.80,354.20 L267.00,354.20 L267.20,354.20 L267.40,354.20 L267.60,354.20 L267.80,354.20 L268.00,354.20 L268.20,354.20 L268.40,354.20 L268.60,354.20 L268.80,354.20 L269.00,354.20 L269.20,354.20 L269.40,354.20 L269.60,354.20 L269.80,354.20 L270.00,354.20 L270.20,354.20 L270.40,354.20 L270.60,354.20 L270.80,354.20 L271.00,354.20 L271.20,354.20 L271.40,354.20 L271.60,354.20 L271.80,354.20 L272.00,354.20 L272.20,354.20 L272.40,354.20 L272.60,354.20 L272.80,354.20 L273.00,354.20 L273.20,354.20 L273.40,354.20 L273.60,354.20 L273.80,354.20 L274.00,354.20 L274.20,354.20 L274.40,354.20 L274.60,354.20 L274.80,354.08 L275.00,353.15 L275.20,351.32 L275.40,348.66 L275.60,345.27 L275.80,341.26 L276.00,336.78 L276.20,332.00 L276.40,327.09 L276.60,322.22 L276.80,317.57 L277.00,313.30 L277.20,309.59 L277.40,306.54 L277.60,304.29 L277.80,302.90 L278.00,302.44 L278.20,302.90 L278.40,304.29 L278.60,306.54 L278.80,309.59 L279.00,313.30 L279.20,317.57 L279.40,322.22 L279.60,327.09 L279.80,332.00 L280.00,336.78 L280.20,341.26 L280.40,345.27 L280.60,348.66 L280.80,351.32 L281.00,353.15 L281.20,354.08 L281.40,354.20 L281.60,354.20 L281.80,354.20 L282.00,354.20 L282.20,354.20 L282.40,354.20 L282.60,354.20 L282.80,354.20 L283.00,354.20 L283.20,354.20 L283.40,354.20 L283.60,354.20 L283.80,354.20 L284.00,354.20 L284.20,354.20 L284.40,354.20 L284.60,354.20 L284.80,354.20 L285.00,354.20 L285.20,354.20 L285.40,354.20 L285.60,354.07 L285.80,353.50 L286.00,352.49 L286.20,351.08 L286.40,349.32 L286.60,347.27 L286.80,345.01 L287.00,342.63 L287.20,340.20 L287.40,337.81 L287.60,335.55 L287.80,333.51 L288.00,331.75 L288.20,330.34 L288.40,329.33 L288.60,328.75 L288.80,328.64 L289.00,328.98 L289.20,329.78 L289.40,330.99 L289.60,332.59 L289.80,334.50 L290.00,336.66 L290.20,338.99 L290.40,341.41 L290.60,343.83 L290.80,346.16 L291.00,348.33 L291.20,350.24 L291.40,351.83 L291.60,353.04 L291.80,353.84 L292.00,354.19 L292.20,354.20 L292.40,354.20 L292.60,354.20 L292.80,354.20 L293.00,354.20 L293.20,354.20 L293.40,354.20 L293.60,354.20 L293.80,354.20 L294.00,354.20 L294.20,354.20 L294.40,354.20 L294.60,354.20 L294.80,354.20 L295.00,354.20 L295.20,354.20 L295.40,354.20 L295.60,354.20 L295.80,354.20 L296.00,354.20 L296.20,354.20 L296.40,353.89 L296.60,352.96 L296.80,351.44 L297.00,349.40 L297.20,346.91 L297.40,344.05 L297.60,340.94 L297.80,337.67 L298.00,334.37 L298.20,331.17 L298.40,328.17 L298.60,325.48 L298.80,323.20 L299.00,321.42 L299.20,320.19 L299.40,319.57 L299.60,319.57 L299.80,320.19 L300.00,321.42 L300.20,323.20 L300.40,325.48 L300.60,328.17 L300.80,331.17 L301.00,334.37 L301.20,337.67 L301.40,340.94 L301.60,344.05 L301.80,346.91 L302.00,349.40 L302.20,351.44 L302.40,352.96 L302.60,353.89 L302.80,354.20 L303.00,354.20 L303.20,354.20 L303.40,354.20 L303.60,354.20 L303.80,354.20 L304.00,354.20 L304.20,354.20 L304.40,354.20 L304.60,354.20 L304.80,354.20 L305.00,354.20 L305.20,354.20 L305.40,354.20 L305.60,354.20 L305.80,354.20 L306.00,354.20 L306.20,354.20 L306.40,354.20 L306.60,354.20 L306.80,354.20 L307.00,354.19 L307.20,353.84 L307.40,353.04 L307.60,351.83 L307.80,350.24 L308.00,348.33 L308.20,346.16 L308.40,343.83 L308.60,341.41 L308.80,338.99 L309.00,336.66 L309.20,334.50 L309.40,332.59 L309.60,330.99 L309.80,329.78 L310.00,328.98 L310.20,328.64 L310.40,328.75 L310.60,329.33 L310.80,330.34 L311.00,331.75 L311.20,333.51 L311.40,335.55 L311.60,337.81 L311.80,340.20 L312.00,342.63 L312.20,345.01 L312.40,347.27 L312.60,349.32 L312.80,351.08 L313.00,352.49 L313.20,353.50 L313.40,354.07 L313.60,354.20 L313.80,354.20 L314.00,354.20 L314.20,354.20 L314.40,354.20 L314.60,354.20 L314.80,354.20 L315.00,354.20 L315.20,354.20 L315.40,354.20 L315.60,354.20 L315.80,354.20 L316.00,354.20 L316.20,354.20 L316.40,354.20 L316.60,354.20 L316.80,354.20 L317.00,354.20 L317.20,354.20 L317.40,354.20 L317.60,354.20 L317.80,354.20 L318.00,354.20 L318.20,354.20 L318.40,354.20 L318.60,354.20 L318.80,354.20 L319.00,354.20 L319.20,354.20 L319.40,354.20 L319.60,354.20 L319.80,354.20 L320.00,354.20 L320.20,354.20 L320.40,354.20 L320.60,354.20 L320.80,354.20 L321.00,354.20 L321.20,354.20 L321.40,354.20 L321.60,354.20 L321.80,354.20 L322.00,354.20 L322.20,354.20 L322.40,354.20 L322.60,354.20 L322.80,354.20 L323.00,354.20 L323.20,354.20 L323.40,354.20 L323.60,354.20 L323.80,354.20 L324.00,354.20 L324.20,354.20 L324.40,354.20 L324.60,354.20 L324.80,354.20 L325.00,354.20 L325.20,354.20 L325.40,354.20 L325.60,354.20 L325.80,354.20 L326.00,354.20 L326.20,354.20 L326.40,354.20 L326.60,354.20 L326.80,354.20 L327.00,354.20 L327.20,354.20 L327.40,354.20 L327.60,354.20 L327.80,354.20 L328.00,354.20 L328.20,354.20 L328.40,354.20 L328.60,354.20" fill="none" stroke="#566080" stroke-width="0.9" stroke-linejoin="round"/>
<path d="M251.66,351.88 L252.20,351.74 L252.74,351.59 L253.28,351.44 L253.81,351.28 L254.35,351.12 L254.89,350.95 L255.43,350.77 L255.96,350.59 L256.50,350.40 L257.04,350.21 L257.57,350.01 L258.11,349.80 L258.65,349.59 L259.19,349.37 L259.73,349.14 L260.26,348.91 L260.80,348.68 L261.34,348.44 L261.88,348.19 L262.41,347.94 L262.95,347.69 L263.49,347.43 L264.02,347.16 L264.56,346.90 L265.10,346.63 L265.64,346.35 L266.18,346.08 L266.71,345.80 L267.25,345.52 L267.79,345.25 L268.32,344.97 L268.86,344.69 L269.40,344.41 L269.94,344.13 L270.48,343.85 L271.01,343.58 L271.55,343.31 L272.09,343.04 L272.62,342.77 L273.16,342.51 L273.70,342.26 L274.24,342.01 L274.78,341.77 L275.31,341.53 L275.85,341.30 L276.39,341.08 L276.93,340.87 L277.46,340.66 L278.00,340.47 L278.54,340.29 L279.07,340.11 L279.61,339.95 L280.15,339.80 L280.69,339.66 L281.23,339.53 L281.76,339.42 L282.30,339.31 L282.84,339.22 L283.38,339.15 L283.91,339.09 L284.45,339.04 L284.99,339.00 L285.52,338.98 L286.06,338.97 L286.60,338.98 L287.14,339.00 L287.67,339.04 L288.21,339.09 L288.75,339.15 L289.29,339.22 L289.82,339.31 L290.36,339.42 L290.90,339.53 L291.44,339.66 L291.97,339.80 L292.51,339.95 L293.05,340.11 L293.59,340.29 L294.12,340.47 L294.66,340.66 L295.20,340.87 L295.74,341.08 L296.27,341.30 L296.81,341.53 L297.35,341.77 L297.89,342.01 L298.42,342.26 L298.96,342.51 L299.50,342.77 L300.04,343.04 L300.57,343.31 L301.11,343.58 L301.65,343.85 L302.19,344.13 L302.72,344.41 L303.26,344.69 L303.80,344.97 L304.34,345.25 L304.87,345.52 L305.41,345.80 L305.95,346.08 L306.49,346.35 L307.02,346.63 L307.56,346.90 L308.10,347.16 L308.64,347.43 L309.17,347.69 L309.71,347.94 L310.25,348.19 L310.79,348.44 L311.32,348.68 L311.86,348.91 L312.40,349.14 L312.94,349.37 L313.47,349.59 L314.01,349.80 L314.55,350.01 L315.09,350.21 L315.62,350.40 L316.16,350.59 L316.70,350.77 L317.24,350.95 L317.77,351.12 L318.31,351.28 L318.85,351.44 L319.39,351.59 L319.92,351.74 L320.46,351.88 L321.00,352.01 L321.54,352.14 L322.07,352.26 L322.61,352.38 L323.15,352.49 L323.69,352.59 L324.22,352.70 L324.76,352.79 L325.30,352.88 L325.84,352.97 L326.37,353.05 L326.91,353.13 L327.45,353.20 L327.99,353.27 L328.52,353.33" fill="none" stroke="#80b472" stroke-width="0.8"/>
</g>
<rect x="232.40" y="300.20" width="96.30" height="54.00" fill="none" stroke="#2a2a2a" stroke-width="0.9"/>
<rect x="232.40" y="291.30" width="96.30" height="8.90" fill="#e8d0e6" stroke="#2a2a2a" stroke-width="0.9"/>
<text x="280.55" y="298.05" font-size="6.4" text-anchor="middle" fill="#1e1e1e" textLength="12.20" lengthAdjust="spacingAndGlyphs" stroke="#1e1e1e" stroke-width="0.15">PTC</text>
<line x1="228.80" y1="354.20" x2="232.40" y2="354.20" stroke="#333" stroke-width="0.9"/>
<text x="227.30" y="356.50" font-size="6.6" text-anchor="end" fill="#1e1e1e" stroke="#1e1e1e" stroke-width="0.15">0</text>
<line x1="228.80" y1="342.02" x2="232.40" y2="342.02" stroke="#333" stroke-width="0.9"/>
<text x="227.30" y="344.32" font-size="6.6" text-anchor="end" fill="#1e1e1e" stroke="#1e1e1e" stroke-width="0.15">20</text>
<line x1="228.80" y1="329.84" x2="232.40" y2="329.84" stroke="#333" stroke-width="0.9"/>
<text x="227.30" y="332.14" font-size="6.6" text-anchor="end" fill="#1e1e1e" stroke="#1e1e1e" stroke-width="0.15">40</text>
<line x1="228.80" y1="317.66" x2="232.40" y2="317.66" stroke="#333" stroke-width="0.9"/>
<text x="227.30" y="319.96" font-size="6.6" text-anchor="end" fill="#1e1e1e" stroke="#1e1e1e" stroke-width="0.15">60</text>
<line x1="228.80" y1="305.48" x2="232.40" y2="305.48" stroke="#333" stroke-width="0.9"/>
<text x="227.30" y="307.78" font-size="6.6" text-anchor="end" fill="#1e1e1e" stroke="#1e1e1e" stroke-width="0.15">80</text>
<line x1="235.00" y1="354.20" x2="235.00" y2="357.00" stroke="#333" stroke-width="0.9"/>
<text x="235.00" y="366.50" font-size="6.6" text-anchor="middle" fill="#1e1e1e" stroke="#1e1e1e" stroke-width="0.15">−2</text>
<line x1="256.50" y1="354.20" x2="256.50" y2="357.00" stroke="#333" stroke-width="0.9"/>
<text x="256.50" y="366.50" font-size="6.6" text-anchor="middle" fill="#1e1e1e" stroke="#1e1e1e" stroke-width="0.15">0</text>
<line x1="278.00" y1="354.20" x2="278.00" y2="357.00" stroke="#333" stroke-width="0.9"/>
<text x="278.00" y="366.50" font-size="6.6" text-anchor="middle" fill="#1e1e1e" stroke="#1e1e1e" stroke-width="0.15">2</text>
<line x1="299.50" y1="354.20" x2="299.50" y2="357.00" stroke="#333" stroke-width="0.9"/>
<text x="299.50" y="366.50" font-size="6.6" text-anchor="middle" fill="#1e1e1e" stroke="#1e1e1e" stroke-width="0.15">4</text>
<line x1="321.00" y1="354.20" x2="321.00" y2="357.00" stroke="#333" stroke-width="0.9"/>
<text x="321.00" y="366.50" font-size="6.6" text-anchor="middle" fill="#1e1e1e" stroke="#1e1e1e" stroke-width="0.15">6</text>
<text x="280.40" y="375.70" font-size="6.6" text-anchor="middle" fill="#1e1e1e" textLength="32.60" lengthAdjust="spacingAndGlyphs" stroke="#1e1e1e" stroke-width="0.15">Bleed score</text>
<text x="0" y="0" font-size="6.6" fill="#1e1e1e" text-anchor="middle" transform="translate(214.00,289.60) rotate(-90)" textLength="21.5" lengthAdjust="spacingAndGlyphs" stroke="#1e1e1e" stroke-width="0.15">Percent</text>
<text x="178.90" y="260.50" font-size="6.4" text-anchor="start" fill="#5262a0" textLength="24.90" lengthAdjust="spacingAndGlyphs" stroke="#5262a0" stroke-width="0.08">Non PTC</text>
<text x="179.20" y="328.80" font-size="6.4" text-anchor="start" fill="#b83e50" textLength="10.80" lengthAdjust="spacingAndGlyphs" stroke="#b83e50" stroke-width="0.08">PTC</text>
<text x="264.0" y="217.4" font-size="6.3" fill="#1e1e1e" textLength="32.8" lengthAdjust="spacingAndGlyphs" stroke="#1e1e1e" stroke-width="0.15">ACVRL1+/–</text>
<text x="323.40" y="308.4" font-size="6.4" text-anchor="end" fill="#1e1e1e" stroke="#1e1e1e" stroke-width="0.15"><tspan font-style="italic">P</tspan> = .29</text>
<rect x="241.30" y="384.30" width="15.00" height="4.70" fill="#eceef5" stroke="#d6d9e6" stroke-width="0.5"/>
<line x1="241.30" y1="394.20" x2="256.30" y2="394.20" stroke="#555a66" stroke-width="1.0"/>
<line x1="241.30" y1="401.90" x2="256.30" y2="401.90" stroke="#7fb06f" stroke-width="1.2"/>
<text x="259.80" y="388.60" font-size="6.6" text-anchor="start" fill="#1e1e1e" textLength="21.60" lengthAdjust="spacingAndGlyphs" stroke="#1e1e1e" stroke-width="0.15">Percent</text>
<text x="259.80" y="396.60" font-size="6.6" text-anchor="start" fill="#1e1e1e" textLength="62.00" lengthAdjust="spacingAndGlyphs" stroke="#1e1e1e" stroke-width="0.15">K density bleed score</text>
<text x="259.80" y="404.30" font-size="6.6" text-anchor="start" fill="#1e1e1e" textLength="56.50" lengthAdjust="spacingAndGlyphs" stroke="#1e1e1e" stroke-width="0.15">Normal bleed score</text>
<defs><clipPath id="clip175222"><rect x="407.40" y="231.20" width="96.30" height="54.10"/></clipPath></defs>
<g clip-path="url(#clip175222)">
<path d="M407.40,285.30 L407.60,285.30 L407.80,285.30 L408.00,285.30 L408.20,285.30 L408.40,285.30 L408.60,285.30 L408.80,285.30 L409.00,285.30 L409.20,285.30 L409.40,285.30 L409.60,285.30 L409.80,285.30 L410.00,285.30 L410.20,285.30 L410.40,285.30 L410.60,285.30 L410.80,285.30 L411.00,285.30 L411.20,285.30 L411.40,285.30 L411.60,285.30 L411.80,285.30 L412.00,285.30 L412.20,285.30 L412.40,285.30 L412.60,285.30 L412.80,285.30 L413.00,285.30 L413.20,285.30 L413.40,285.30 L413.60,285.30 L413.80,285.30 L414.00,285.30 L414.20,285.30 L414.40,285.30 L414.60,285.30 L414.80,285.30 L415.00,285.30 L415.20,285.30 L415.40,285.30 L415.60,285.30 L415.80,285.30 L416.00,285.30 L416.20,285.30 L416.40,285.30 L416.60,285.30 L416.80,285.30 L417.00,285.30 L417.20,285.30 L417.40,285.30 L417.60,285.30 L417.80,285.30 L418.00,285.30 L418.20,285.30 L418.40,285.30 L418.60,285.30 L418.80,285.30 L419.00,285.30 L419.20,285.30 L419.40,285.30 L419.60,285.30 L419.80,285.30 L420.00,285.30 L420.20,285.30 L420.40,285.30 L420.60,285.30 L420.80,285.30 L421.00,285.30 L421.20,285.30 L421.40,285.30 L421.60,285.30 L421.80,285.30 L422.00,285.30 L422.20,285.30 L422.40,285.30 L422.60,285.30 L422.80,285.30 L423.00,285.30 L423.20,285.30 L423.40,285.30 L423.60,285.30 L423.80,285.30 L424.00,285.30 L424.20,285.30 L424.40,285.30 L424.60,285.30 L424.80,285.30 L425.00,285.30 L425.20,285.30 L425.40,285.30 L425.60,285.30 L425.80,285.30 L426.00,285.30 L426.20,285.30 L426.40,285.30 L426.60,285.30 L426.80,285.30 L427.00,285.30 L427.20,285.30 L427.40,285.30 L427.60,285.30 L427.80,285.30 L428.00,285.30 L428.20,285.30 L428.40,285.18 L428.60,284.81 L428.80,284.21 L429.00,283.40 L429.20,282.41 L429.40,281.28 L429.60,280.04 L429.80,278.75 L430.00,277.44 L430.20,276.17 L430.40,274.98 L430.60,273.92 L430.80,273.02 L431.00,272.31 L431.20,271.82 L431.40,271.58 L431.60,271.58 L431.80,271.82 L432.00,272.31 L432.20,273.02 L432.40,273.92 L432.60,274.98 L432.80,276.17 L433.00,277.44 L433.20,278.75 L433.40,280.04 L433.60,281.28 L433.80,282.41 L434.00,283.40 L434.20,284.21 L434.40,284.81 L434.60,285.18 L434.80,285.30 L435.00,285.30 L435.20,285.30 L435.40,285.30 L435.60,285.30 L435.80,285.30 L436.00,285.30 L436.20,285.30 L436.40,285.30 L436.60,285.30 L436.80,285.30 L437.00,285.30 L437.20,285.30 L437.40,285.30 L437.60,285.30 L437.80,285.30 L438.00,285.30 L438.20,285.30 L438.40,285.30 L438.60,285.30 L438.80,285.30 L439.00,285.28 L439.20,284.91 L439.40,284.06 L439.60,282.76 L439.80,281.05 L440.00,279.00 L440.20,276.69 L440.40,274.19 L440.60,271.59 L440.80,269.00 L441.00,266.50 L441.20,264.19 L441.40,262.14 L441.60,260.43 L441.80,259.13 L442.00,258.28 L442.20,257.91 L442.40,258.03 L442.60,258.64 L442.80,259.73 L443.00,261.24 L443.20,263.12 L443.40,265.31 L443.60,267.73 L443.80,270.29 L444.00,272.90 L444.20,275.46 L444.40,277.87 L444.60,280.07 L444.80,281.95 L445.00,283.46 L445.20,284.55 L445.40,285.16 L445.60,285.30 L445.80,285.30 L446.00,285.30 L446.20,285.30 L446.40,285.30 L446.60,285.30 L446.80,285.30 L447.00,285.30 L447.20,285.30 L447.40,285.30 L447.60,285.30 L447.80,285.30 L448.00,285.30 L448.20,285.30 L448.40,285.30 L448.60,285.30 L448.80,285.30 L449.00,285.30 L449.20,285.30 L449.40,285.30 L449.60,285.30 L449.80,285.22 L450.00,284.56 L450.20,283.27 L450.40,281.40 L450.60,279.01 L450.80,276.19 L451.00,273.04 L451.20,269.67 L451.40,266.21 L451.60,262.78 L451.80,259.50 L452.00,256.50 L452.20,253.88 L452.40,251.74 L452.60,250.16 L452.80,249.18 L453.00,248.85 L453.20,249.18 L453.40,250.16 L453.60,251.74 L453.80,253.88 L454.00,256.50 L454.20,259.50 L454.40,262.78 L454.60,266.21 L454.80,269.67 L455.00,273.04 L455.20,276.19 L455.40,279.01 L455.60,281.40 L455.80,283.27 L456.00,284.56 L456.20,285.22 L456.40,285.30 L456.60,285.30 L456.80,285.30 L457.00,285.30 L457.20,285.30 L457.40,285.30 L457.60,285.30 L457.80,285.30 L458.00,285.30 L458.20,285.30 L458.40,285.30 L458.60,285.30 L458.80,285.30 L459.00,285.30 L459.20,285.30 L459.40,285.30 L459.60,285.30 L459.80,285.30 L460.00,285.30 L460.20,285.30 L460.40,285.30 L460.60,285.26 L460.80,285.07 L461.00,284.75 L461.20,284.29 L461.40,283.72 L461.60,283.06 L461.80,282.33 L462.00,281.56 L462.20,280.78 L462.40,280.01 L462.60,279.28 L462.80,278.62 L463.00,278.05 L463.20,277.59 L463.40,277.27 L463.60,277.08 L463.80,277.04 L464.00,277.15 L464.20,277.41 L464.40,277.80 L464.60,278.32 L464.80,278.94 L465.00,279.63 L465.20,280.39 L465.40,281.17 L465.60,281.95 L465.80,282.70 L466.00,283.40 L466.20,284.02 L466.40,284.53 L466.60,284.93 L466.80,285.18 L467.00,285.30 L467.20,285.30 L467.40,285.30 L467.60,285.30 L467.80,285.30 L468.00,285.30 L468.20,285.30 L468.40,285.30 L468.60,285.30 L468.80,285.30 L469.00,285.30 L469.20,285.30 L469.40,285.30 L469.60,285.30 L469.80,285.30 L470.00,285.30 L470.20,285.30 L470.40,285.30 L470.60,285.30 L470.80,285.30 L471.00,285.30 L471.20,285.30 L471.40,285.13 L471.60,284.64 L471.80,283.83 L472.00,282.75 L472.20,281.42 L472.40,279.90 L472.60,278.24 L472.80,276.51 L473.00,274.75 L473.20,273.05 L473.40,271.45 L473.60,270.02 L473.80,268.81 L474.00,267.86 L474.20,267.21 L474.40,266.87 L474.60,266.87 L474.80,267.21 L475.00,267.86 L475.20,268.81 L475.40,270.02 L475.60,271.45 L475.80,273.05 L476.00,274.75 L476.20,276.51 L476.40,278.24 L476.60,279.90 L476.80,281.42 L477.00,282.75 L477.20,283.83 L477.40,284.64 L477.60,285.13 L477.80,285.30 L478.00,285.30 L478.20,285.30 L478.40,285.30 L478.60,285.30 L478.80,285.30 L479.00,285.30 L479.20,285.30 L479.40,285.30 L479.60,285.30 L479.80,285.30 L480.00,285.30 L480.20,285.30 L480.40,285.30 L480.60,285.30 L480.80,285.30 L481.00,285.30 L481.20,285.30 L481.40,285.30 L481.60,285.30 L481.80,285.30 L482.00,285.29 L482.20,285.11 L482.40,284.69 L482.60,284.04 L482.80,283.19 L483.00,282.17 L483.20,281.02 L483.40,279.78 L483.60,278.50 L483.80,277.21 L484.00,275.97 L484.20,274.82 L484.40,273.80 L484.60,272.95 L484.80,272.31 L485.00,271.88 L485.20,271.70 L485.40,271.76 L485.60,272.07 L485.80,272.60 L486.00,273.35 L486.20,274.29 L486.40,275.38 L486.60,276.58 L486.80,277.85 L487.00,279.14 L487.20,280.41 L487.40,281.61 L487.60,282.70 L487.80,283.64 L488.00,284.39 L488.20,284.93 L488.40,285.23 L488.60,285.30 L488.80,285.30 L489.00,285.30 L489.20,285.30 L489.40,285.30 L489.60,285.30 L489.80,285.30 L490.00,285.30 L490.20,285.30 L490.40,285.30 L490.60,285.30 L490.80,285.30 L491.00,285.30 L491.20,285.30 L491.40,285.30 L491.60,285.30 L491.80,285.30 L492.00,285.30 L492.20,285.30 L492.40,285.30 L492.60,285.30 L492.80,285.29 L493.00,285.21 L493.20,285.06 L493.40,284.85 L493.60,284.57 L493.80,284.24 L494.00,283.88 L494.20,283.49 L494.40,283.09 L494.60,282.69 L494.80,282.31 L495.00,281.96 L495.20,281.66 L495.40,281.41 L495.60,281.22 L495.80,281.11 L496.00,281.07 L496.20,281.11 L496.40,281.22 L496.60,281.41 L496.80,281.66 L497.00,281.96 L497.20,282.31 L497.40,282.69 L497.60,283.09 L497.80,283.49 L498.00,283.88 L498.20,284.24 L498.40,284.57 L498.60,284.85 L498.80,285.06 L499.00,285.21 L499.20,285.29 L499.40,285.30 L499.60,285.30 L499.80,285.30 L500.00,285.30 L500.20,285.30 L500.40,285.30 L500.60,285.30 L500.80,285.30 L501.00,285.30 L501.20,285.30 L501.40,285.30 L501.60,285.30 L501.80,285.30 L502.00,285.30 L502.20,285.30 L502.40,285.30 L502.60,285.30 L502.80,285.30 L503.00,285.30 L503.20,285.30 L503.40,285.30 L503.60,285.30 L503.70,285.30 L407.40,285.30 Z" fill="#f1f2f7" stroke="none"/>
<path d="M407.40,285.30 L407.60,285.30 L407.80,285.30 L408.00,285.30 L408.20,285.30 L408.40,285.30 L408.60,285.30 L408.80,285.30 L409.00,285.30 L409.20,285.30 L409.40,285.30 L409.60,285.30 L409.80,285.30 L410.00,285.30 L410.20,285.30 L410.40,285.30 L410.60,285.30 L410.80,285.30 L411.00,285.30 L411.20,285.30 L411.40,285.30 L411.60,285.30 L411.80,285.30 L412.00,285.30 L412.20,285.30 L412.40,285.30 L412.60,285.30 L412.80,285.30 L413.00,285.30 L413.20,285.30 L413.40,285.30 L413.60,285.30 L413.80,285.30 L414.00,285.30 L414.20,285.30 L414.40,285.30 L414.60,285.30 L414.80,285.30 L415.00,285.30 L415.20,285.30 L415.40,285.30 L415.60,285.30 L415.80,285.30 L416.00,285.30 L416.20,285.30 L416.40,285.30 L416.60,285.30 L416.80,285.30 L417.00,285.30 L417.20,285.30 L417.40,285.30 L417.60,285.30 L417.80,285.30 L418.00,285.30 L418.20,285.30 L418.40,285.30 L418.60,285.30 L418.80,285.30 L419.00,285.30 L419.20,285.30 L419.40,285.30 L419.60,285.30 L419.80,285.30 L420.00,285.30 L420.20,285.30 L420.40,285.30 L420.60,285.30 L420.80,285.30 L421.00,285.30 L421.20,285.30 L421.40,285.30 L421.60,285.30 L421.80,285.30 L422.00,285.30 L422.20,285.30 L422.40,285.30 L422.60,285.30 L422.80,285.30 L423.00,285.30 L423.20,285.30 L423.40,285.30 L423.60,285.30 L423.80,285.30 L424.00,285.30 L424.20,285.30 L424.40,285.30 L424.60,285.30 L424.80,285.30 L425.00,285.30 L425.20,285.30 L425.40,285.30 L425.60,285.30 L425.80,285.30 L426.00,285.30 L426.20,285.30 L426.40,285.30 L426.60,285.30 L426.80,285.30 L427.00,285.30 L427.20,285.30 L427.40,285.30 L427.60,285.30 L427.80,285.30 L428.00,285.30 L428.20,285.30 L428.40,285.18 L428.60,284.81 L428.80,284.21 L429.00,283.40 L429.20,282.41 L429.40,281.28 L429.60,280.04 L429.80,278.75 L430.00,277.44 L430.20,276.17 L430.40,274.98 L430.60,273.92 L430.80,273.02 L431.00,272.31 L431.20,271.82 L431.40,271.58 L431.60,271.58 L431.80,271.82 L432.00,272.31 L432.20,273.02 L432.40,273.92 L432.60,274.98 L432.80,276.17 L433.00,277.44 L433.20,278.75 L433.40,280.04 L433.60,281.28 L433.80,282.41 L434.00,283.40 L434.20,284.21 L434.40,284.81 L434.60,285.18 L434.80,285.30 L435.00,285.30 L435.20,285.30 L435.40,285.30 L435.60,285.30 L435.80,285.30 L436.00,285.30 L436.20,285.30 L436.40,285.30 L436.60,285.30 L436.80,285.30 L437.00,285.30 L437.20,285.30 L437.40,285.30 L437.60,285.30 L437.80,285.30 L438.00,285.30 L438.20,285.30 L438.40,285.30 L438.60,285.30 L438.80,285.30 L439.00,285.28 L439.20,284.91 L439.40,284.06 L439.60,282.76 L439.80,281.05 L440.00,279.00 L440.20,276.69 L440.40,274.19 L440.60,271.59 L440.80,269.00 L441.00,266.50 L441.20,264.19 L441.40,262.14 L441.60,260.43 L441.80,259.13 L442.00,258.28 L442.20,257.91 L442.40,258.03 L442.60,258.64 L442.80,259.73 L443.00,261.24 L443.20,263.12 L443.40,265.31 L443.60,267.73 L443.80,270.29 L444.00,272.90 L444.20,275.46 L444.40,277.87 L444.60,280.07 L444.80,281.95 L445.00,283.46 L445.20,284.55 L445.40,285.16 L445.60,285.30 L445.80,285.30 L446.00,285.30 L446.20,285.30 L446.40,285.30 L446.60,285.30 L446.80,285.30 L447.00,285.30 L447.20,285.30 L447.40,285.30 L447.60,285.30 L447.80,285.30 L448.00,285.30 L448.20,285.30 L448.40,285.30 L448.60,285.30 L448.80,285.30 L449.00,285.30 L449.20,285.30 L449.40,285.30 L449.60,285.30 L449.80,285.22 L450.00,284.56 L450.20,283.27 L450.40,281.40 L450.60,279.01 L450.80,276.19 L451.00,273.04 L451.20,269.67 L451.40,266.21 L451.60,262.78 L451.80,259.50 L452.00,256.50 L452.20,253.88 L452.40,251.74 L452.60,250.16 L452.80,249.18 L453.00,248.85 L453.20,249.18 L453.40,250.16 L453.60,251.74 L453.80,253.88 L454.00,256.50 L454.20,259.50 L454.40,262.78 L454.60,266.21 L454.80,269.67 L455.00,273.04 L455.20,276.19 L455.40,279.01 L455.60,281.40 L455.80,283.27 L456.00,284.56 L456.20,285.22 L456.40,285.30 L456.60,285.30 L456.80,285.30 L457.00,285.30 L457.20,285.30 L457.40,285.30 L457.60,285.30 L457.80,285.30 L458.00,285.30 L458.20,285.30 L458.40,285.30 L458.60,285.30 L458.80,285.30 L459.00,285.30 L459.20,285.30 L459.40,285.30 L459.60,285.30 L459.80,285.30 L460.00,285.30 L460.20,285.30 L460.40,285.30 L460.60,285.26 L460.80,285.07 L461.00,284.75 L461.20,284.29 L461.40,283.72 L461.60,283.06 L461.80,282.33 L462.00,281.56 L462.20,280.78 L462.40,280.01 L462.60,279.28 L462.80,278.62 L463.00,278.05 L463.20,277.59 L463.40,277.27 L463.60,277.08 L463.80,277.04 L464.00,277.15 L464.20,277.41 L464.40,277.80 L464.60,278.32 L464.80,278.94 L465.00,279.63 L465.20,280.39 L465.40,281.17 L465.60,281.95 L465.80,282.70 L466.00,283.40 L466.20,284.02 L466.40,284.53 L466.60,284.93 L466.80,285.18 L467.00,285.30 L467.20,285.30 L467.40,285.30 L467.60,285.30 L467.80,285.30 L468.00,285.30 L468.20,285.30 L468.40,285.30 L468.60,285.30 L468.80,285.30 L469.00,285.30 L469.20,285.30 L469.40,285.30 L469.60,285.30 L469.80,285.30 L470.00,285.30 L470.20,285.30 L470.40,285.30 L470.60,285.30 L470.80,285.30 L471.00,285.30 L471.20,285.30 L471.40,285.13 L471.60,284.64 L471.80,283.83 L472.00,282.75 L472.20,281.42 L472.40,279.90 L472.60,278.24 L472.80,276.51 L473.00,274.75 L473.20,273.05 L473.40,271.45 L473.60,270.02 L473.80,268.81 L474.00,267.86 L474.20,267.21 L474.40,266.87 L474.60,266.87 L474.80,267.21 L475.00,267.86 L475.20,268.81 L475.40,270.02 L475.60,271.45 L475.80,273.05 L476.00,274.75 L476.20,276.51 L476.40,278.24 L476.60,279.90 L476.80,281.42 L477.00,282.75 L477.20,283.83 L477.40,284.64 L477.60,285.13 L477.80,285.30 L478.00,285.30 L478.20,285.30 L478.40,285.30 L478.60,285.30 L478.80,285.30 L479.00,285.30 L479.20,285.30 L479.40,285.30 L479.60,285.30 L479.80,285.30 L480.00,285.30 L480.20,285.30 L480.40,285.30 L480.60,285.30 L480.80,285.30 L481.00,285.30 L481.20,285.30 L481.40,285.30 L481.60,285.30 L481.80,285.30 L482.00,285.29 L482.20,285.11 L482.40,284.69 L482.60,284.04 L482.80,283.19 L483.00,282.17 L483.20,281.02 L483.40,279.78 L483.60,278.50 L483.80,277.21 L484.00,275.97 L484.20,274.82 L484.40,273.80 L484.60,272.95 L484.80,272.31 L485.00,271.88 L485.20,271.70 L485.40,271.76 L485.60,272.07 L485.80,272.60 L486.00,273.35 L486.20,274.29 L486.40,275.38 L486.60,276.58 L486.80,277.85 L487.00,279.14 L487.20,280.41 L487.40,281.61 L487.60,282.70 L487.80,283.64 L488.00,284.39 L488.20,284.93 L488.40,285.23 L488.60,285.30 L488.80,285.30 L489.00,285.30 L489.20,285.30 L489.40,285.30 L489.60,285.30 L489.80,285.30 L490.00,285.30 L490.20,285.30 L490.40,285.30 L490.60,285.30 L490.80,285.30 L491.00,285.30 L491.20,285.30 L491.40,285.30 L491.60,285.30 L491.80,285.30 L492.00,285.30 L492.20,285.30 L492.40,285.30 L492.60,285.30 L492.80,285.29 L493.00,285.21 L493.20,285.06 L493.40,284.85 L493.60,284.57 L493.80,284.24 L494.00,283.88 L494.20,283.49 L494.40,283.09 L494.60,282.69 L494.80,282.31 L495.00,281.96 L495.20,281.66 L495.40,281.41 L495.60,281.22 L495.80,281.11 L496.00,281.07 L496.20,281.11 L496.40,281.22 L496.60,281.41 L496.80,281.66 L497.00,281.96 L497.20,282.31 L497.40,282.69 L497.60,283.09 L497.80,283.49 L498.00,283.88 L498.20,284.24 L498.40,284.57 L498.60,284.85 L498.80,285.06 L499.00,285.21 L499.20,285.29 L499.40,285.30 L499.60,285.30 L499.80,285.30 L500.00,285.30 L500.20,285.30 L500.40,285.30 L500.60,285.30 L500.80,285.30 L501.00,285.30 L501.20,285.30 L501.40,285.30 L501.60,285.30 L501.80,285.30 L502.00,285.30 L502.20,285.30 L502.40,285.30 L502.60,285.30 L502.80,285.30 L503.00,285.30 L503.20,285.30 L503.40,285.30 L503.60,285.30" fill="none" stroke="#566080" stroke-width="0.9" stroke-linejoin="round"/>
<path d="M425.59,282.65 L426.12,282.52 L426.66,282.39 L427.20,282.25 L427.74,282.11 L428.27,281.97 L428.81,281.82 L429.35,281.67 L429.89,281.51 L430.43,281.35 L430.96,281.19 L431.50,281.02 L432.04,280.85 L432.57,280.68 L433.11,280.50 L433.65,280.33 L434.19,280.14 L434.73,279.96 L435.26,279.77 L435.80,279.58 L436.34,279.39 L436.88,279.20 L437.41,279.01 L437.95,278.81 L438.49,278.62 L439.02,278.42 L439.56,278.23 L440.10,278.03 L440.64,277.83 L441.18,277.64 L441.71,277.44 L442.25,277.25 L442.79,277.06 L443.32,276.87 L443.86,276.68 L444.40,276.50 L444.94,276.31 L445.48,276.14 L446.01,275.96 L446.55,275.79 L447.09,275.62 L447.62,275.46 L448.16,275.30 L448.70,275.15 L449.24,275.01 L449.78,274.87 L450.31,274.73 L450.85,274.61 L451.39,274.49 L451.93,274.37 L452.46,274.27 L453.00,274.17 L453.54,274.08 L454.07,273.99 L454.61,273.92 L455.15,273.85 L455.69,273.80 L456.23,273.75 L456.76,273.71 L457.30,273.68 L457.84,273.65 L458.38,273.64 L458.91,273.64 L459.45,273.64 L459.99,273.65 L460.52,273.68 L461.06,273.71 L461.60,273.75 L462.14,273.80 L462.67,273.85 L463.21,273.92 L463.75,273.99 L464.29,274.08 L464.82,274.17 L465.36,274.27 L465.90,274.37 L466.44,274.49 L466.97,274.61 L467.51,274.73 L468.05,274.87 L468.59,275.01 L469.12,275.15 L469.66,275.30 L470.20,275.46 L470.74,275.62 L471.27,275.79 L471.81,275.96 L472.35,276.14 L472.89,276.31 L473.42,276.50 L473.96,276.68 L474.50,276.87 L475.04,277.06 L475.57,277.25 L476.11,277.44 L476.65,277.64 L477.19,277.83 L477.72,278.03 L478.26,278.23 L478.80,278.42 L479.34,278.62 L479.87,278.81 L480.41,279.01 L480.95,279.20 L481.49,279.39 L482.02,279.58 L482.56,279.77 L483.10,279.96 L483.64,280.14 L484.17,280.33 L484.71,280.50 L485.25,280.68 L485.79,280.85 L486.32,281.02 L486.86,281.19 L487.40,281.35 L487.94,281.51 L488.47,281.67 L489.01,281.82 L489.55,281.97 L490.09,282.11 L490.62,282.25 L491.16,282.39 L491.70,282.52 L492.24,282.65 L492.77,282.78 L493.31,282.90 L493.85,283.01 L494.39,283.13 L494.92,283.24 L495.46,283.34 L496.00,283.44 L496.54,283.54 L497.07,283.63 L497.61,283.72 L498.15,283.81 L498.69,283.89 L499.22,283.97 L499.76,284.04 L500.30,284.12 L500.84,284.18 L501.37,284.25 L501.91,284.31 L502.45,284.37 L502.99,284.43 L503.52,284.48" fill="none" stroke="#80b472" stroke-width="0.8"/>
</g>
<rect x="407.40" y="231.20" width="96.30" height="54.10" fill="none" stroke="#2a2a2a" stroke-width="0.9"/>
<rect x="407.40" y="222.40" width="96.30" height="8.80" fill="#aeaade" stroke="#2a2a2a" stroke-width="0.9"/>
<text x="455.55" y="229.10" font-size="6.4" text-anchor="middle" fill="#1e1e1e" textLength="26.00" lengthAdjust="spacingAndGlyphs" stroke="#1e1e1e" stroke-width="0.15">Non-PTC</text>
<line x1="403.80" y1="285.30" x2="407.40" y2="285.30" stroke="#333" stroke-width="0.9"/>
<text x="402.30" y="287.60" font-size="6.6" text-anchor="end" fill="#1e1e1e" stroke="#1e1e1e" stroke-width="0.15">0</text>
<line x1="403.80" y1="261.00" x2="407.40" y2="261.00" stroke="#333" stroke-width="0.9"/>
<text x="402.30" y="263.30" font-size="6.6" text-anchor="end" fill="#1e1e1e" stroke="#1e1e1e" stroke-width="0.15">50</text>
<line x1="403.80" y1="236.70" x2="407.40" y2="236.70" stroke="#333" stroke-width="0.9"/>
<text x="402.30" y="239.00" font-size="6.6" text-anchor="end" fill="#1e1e1e" stroke="#1e1e1e" stroke-width="0.15">100</text>
<defs><clipPath id="clip175291"><rect x="407.40" y="300.20" width="96.30" height="54.00"/></clipPath></defs>
<g clip-path="url(#clip175291)">
<path d="M407.40,354.20 L407.60,354.20 L407.80,354.20 L408.00,354.20 L408.20,354.20 L408.40,354.20 L408.60,354.20 L408.80,354.20 L409.00,354.20 L409.20,354.20 L409.40,354.20 L409.60,354.20 L409.80,354.20 L410.00,354.20 L410.20,354.20 L410.40,354.20 L410.60,354.20 L410.80,354.20 L411.00,354.20 L411.20,354.20 L411.40,354.20 L411.60,354.20 L411.80,354.20 L412.00,354.20 L412.20,354.20 L412.40,354.20 L412.60,354.20 L412.80,354.20 L413.00,354.20 L413.20,354.20 L413.40,354.20 L413.60,354.20 L413.80,354.20 L414.00,354.20 L414.20,354.20 L414.40,354.20 L414.60,354.20 L414.80,354.20 L415.00,354.20 L415.20,354.20 L415.40,354.20 L415.60,354.20 L415.80,354.20 L416.00,354.20 L416.20,354.20 L416.40,354.20 L416.60,354.20 L416.80,354.20 L417.00,354.20 L417.20,354.20 L417.40,354.20 L417.60,354.20 L417.80,354.20 L418.00,354.20 L418.20,354.20 L418.40,354.20 L418.60,354.20 L418.80,354.20 L419.00,354.20 L419.20,354.20 L419.40,354.20 L419.60,354.20 L419.80,354.20 L420.00,354.20 L420.20,354.20 L420.40,354.20 L420.60,354.20 L420.80,354.20 L421.00,354.20 L421.20,354.20 L421.40,354.20 L421.60,354.20 L421.80,354.20 L422.00,354.20 L422.20,354.20 L422.40,354.20 L422.60,354.20 L422.80,354.20 L423.00,354.20 L423.20,354.20 L423.40,354.20 L423.60,354.20 L423.80,354.20 L424.00,354.20 L424.20,354.20 L424.40,354.20 L424.60,354.20 L424.80,354.20 L425.00,354.20 L425.20,354.20 L425.40,354.20 L425.60,354.20 L425.80,354.20 L426.00,354.20 L426.20,354.20 L426.40,354.20 L426.60,354.20 L426.80,354.20 L427.00,354.20 L427.20,354.20 L427.40,354.20 L427.60,354.20 L427.80,354.20 L428.00,354.20 L428.20,354.20 L428.40,354.16 L428.60,354.05 L428.80,353.86 L429.00,353.62 L429.20,353.31 L429.40,352.96 L429.60,352.58 L429.80,352.19 L430.00,351.79 L430.20,351.39 L430.40,351.03 L430.60,350.70 L430.80,350.42 L431.00,350.21 L431.20,350.06 L431.40,349.98 L431.60,349.98 L431.80,350.06 L432.00,350.21 L432.20,350.42 L432.40,350.70 L432.60,351.03 L432.80,351.39 L433.00,351.79 L433.20,352.19 L433.40,352.58 L433.60,352.96 L433.80,353.31 L434.00,353.62 L434.20,353.86 L434.40,354.05 L434.60,354.16 L434.80,354.20 L435.00,354.20 L435.20,354.20 L435.40,354.20 L435.60,354.20 L435.80,354.20 L436.00,354.20 L436.20,354.20 L436.40,354.20 L436.60,354.20 L436.80,354.20 L437.00,354.20 L437.20,354.20 L437.40,354.20 L437.60,354.20 L437.80,354.20 L438.00,354.20 L438.20,354.20 L438.40,354.20 L438.60,354.20 L438.80,354.20 L439.00,354.19 L439.20,353.91 L439.40,353.26 L439.60,352.26 L439.80,350.96 L440.00,349.40 L440.20,347.63 L440.40,345.73 L440.60,343.75 L440.80,341.77 L441.00,339.87 L441.20,338.10 L441.40,336.54 L441.60,335.24 L441.80,334.25 L442.00,333.60 L442.20,333.31 L442.40,333.41 L442.60,333.88 L442.80,334.70 L443.00,335.85 L443.20,337.29 L443.40,338.96 L443.60,340.81 L443.80,342.76 L444.00,344.74 L444.20,346.69 L444.40,348.54 L444.60,350.21 L444.80,351.65 L445.00,352.80 L445.20,353.63 L445.40,354.09 L445.60,354.20 L445.80,354.20 L446.00,354.20 L446.20,354.20 L446.40,354.20 L446.60,354.20 L446.80,354.20 L447.00,354.20 L447.20,354.20 L447.40,354.20 L447.60,354.20 L447.80,354.20 L448.00,354.20 L448.20,354.20 L448.40,354.20 L448.60,354.20 L448.80,354.20 L449.00,354.20 L449.20,354.20 L449.40,354.20 L449.60,354.20 L449.80,354.08 L450.00,353.15 L450.20,351.31 L450.40,348.64 L450.60,345.23 L450.80,341.20 L451.00,336.70 L451.20,331.90 L451.40,326.96 L451.60,322.07 L451.80,317.40 L452.00,313.12 L452.20,309.38 L452.40,306.33 L452.60,304.06 L452.80,302.67 L453.00,302.20 L453.20,302.67 L453.40,304.06 L453.60,306.33 L453.80,309.38 L454.00,313.12 L454.20,317.40 L454.40,322.07 L454.60,326.96 L454.80,331.90 L455.00,336.70 L455.20,341.20 L455.40,345.23 L455.60,348.64 L455.80,351.31 L456.00,353.15 L456.20,354.08 L456.40,354.20 L456.60,354.20 L456.80,354.20 L457.00,354.20 L457.20,354.20 L457.40,354.20 L457.60,354.20 L457.80,354.20 L458.00,354.20 L458.20,354.20 L458.40,354.20 L458.60,354.20 L458.80,354.20 L459.00,354.20 L459.20,354.20 L459.40,354.20 L459.60,354.20 L459.80,354.20 L460.00,354.20 L460.20,354.20 L460.40,354.20 L460.60,353.95 L460.80,352.86 L461.00,350.94 L461.20,348.26 L461.40,344.92 L461.60,341.03 L461.80,336.75 L462.00,332.21 L462.20,327.59 L462.40,323.05 L462.60,318.77 L462.80,314.88 L463.00,311.54 L463.20,308.86 L463.40,306.94 L463.60,305.85 L463.80,305.63 L464.00,306.28 L464.20,307.80 L464.40,310.11 L464.60,313.13 L464.80,316.76 L465.00,320.87 L465.20,325.30 L465.40,329.90 L465.60,334.50 L465.80,338.93 L466.00,343.04 L466.20,346.67 L466.40,349.69 L466.60,352.00 L466.80,353.52 L467.00,354.17 L467.20,354.20 L467.40,354.20 L467.60,354.20 L467.80,354.20 L468.00,354.20 L468.20,354.20 L468.40,354.20 L468.60,354.20 L468.80,354.20 L469.00,354.20 L469.20,354.20 L469.40,354.20 L469.60,354.20 L469.80,354.20 L470.00,354.20 L470.20,354.20 L470.40,354.20 L470.60,354.20 L470.80,354.20 L471.00,354.20 L471.20,354.20 L471.40,353.78 L471.60,352.53 L471.80,350.50 L472.00,347.76 L472.20,344.40 L472.40,340.56 L472.60,336.37 L472.80,331.98 L473.00,327.55 L473.20,323.24 L473.40,319.21 L473.60,315.60 L473.80,312.53 L474.00,310.14 L474.20,308.49 L474.40,307.65 L474.60,307.65 L474.80,308.49 L475.00,310.14 L475.20,312.53 L475.40,315.60 L475.60,319.21 L475.80,323.24 L476.00,327.55 L476.20,331.98 L476.40,336.37 L476.60,340.56 L476.80,344.40 L477.00,347.76 L477.20,350.50 L477.40,352.53 L477.60,353.78 L477.80,354.20 L478.00,354.20 L478.20,354.20 L478.40,354.20 L478.60,354.20 L478.80,354.20 L479.00,354.20 L479.20,354.20 L479.40,354.20 L479.60,354.20 L479.80,354.20 L480.00,354.20 L480.20,354.20 L480.40,354.20 L480.60,354.20 L480.80,354.20 L481.00,354.20 L481.20,354.20 L481.40,354.20 L481.60,354.20 L481.80,354.20 L482.00,354.19 L482.20,354.00 L482.40,353.57 L482.60,352.92 L482.80,352.05 L483.00,351.02 L483.20,349.85 L483.40,348.59 L483.60,347.27 L483.80,345.96 L484.00,344.70 L484.20,343.53 L484.40,342.50 L484.60,341.63 L484.80,340.97 L485.00,340.54 L485.20,340.36 L485.40,340.42 L485.60,340.73 L485.80,341.28 L486.00,342.04 L486.20,342.99 L486.40,344.10 L486.60,345.32 L486.80,346.62 L487.00,347.93 L487.20,349.23 L487.40,350.45 L487.60,351.56 L487.80,352.51 L488.00,353.27 L488.20,353.82 L488.40,354.13 L488.60,354.20 L488.80,354.20 L489.00,354.20 L489.20,354.20 L489.40,354.20 L489.60,354.20 L489.80,354.20 L490.00,354.20 L490.20,354.20 L490.40,354.20 L490.60,354.20 L490.80,354.20 L491.00,354.20 L491.20,354.20 L491.40,354.20 L491.60,354.20 L491.80,354.20 L492.00,354.20 L492.20,354.20 L492.40,354.20 L492.60,354.20 L492.80,354.17 L493.00,353.95 L493.20,353.52 L493.40,352.90 L493.60,352.10 L493.80,351.16 L494.00,350.11 L494.20,348.99 L494.40,347.84 L494.60,346.69 L494.80,345.60 L495.00,344.60 L495.20,343.73 L495.40,343.01 L495.60,342.49 L495.80,342.16 L496.00,342.05 L496.20,342.16 L496.40,342.49 L496.60,343.01 L496.80,343.73 L497.00,344.60 L497.20,345.60 L497.40,346.69 L497.60,347.84 L497.80,348.99 L498.00,350.11 L498.20,351.16 L498.40,352.10 L498.60,352.90 L498.80,353.52 L499.00,353.95 L499.20,354.17 L499.40,354.20 L499.60,354.20 L499.80,354.20 L500.00,354.20 L500.20,354.20 L500.40,354.20 L500.60,354.20 L500.80,354.20 L501.00,354.20 L501.20,354.20 L501.40,354.20 L501.60,354.20 L501.80,354.20 L502.00,354.20 L502.20,354.20 L502.40,354.20 L502.60,354.20 L502.80,354.20 L503.00,354.20 L503.20,354.20 L503.40,354.20 L503.60,354.20 L503.70,354.20 L407.40,354.20 Z" fill="#f1f2f7" stroke="none"/>
<path d="M407.40,354.20 L407.60,354.20 L407.80,354.20 L408.00,354.20 L408.20,354.20 L408.40,354.20 L408.60,354.20 L408.80,354.20 L409.00,354.20 L409.20,354.20 L409.40,354.20 L409.60,354.20 L409.80,354.20 L410.00,354.20 L410.20,354.20 L410.40,354.20 L410.60,354.20 L410.80,354.20 L411.00,354.20 L411.20,354.20 L411.40,354.20 L411.60,354.20 L411.80,354.20 L412.00,354.20 L412.20,354.20 L412.40,354.20 L412.60,354.20 L412.80,354.20 L413.00,354.20 L413.20,354.20 L413.40,354.20 L413.60,354.20 L413.80,354.20 L414.00,354.20 L414.20,354.20 L414.40,354.20 L414.60,354.20 L414.80,354.20 L415.00,354.20 L415.20,354.20 L415.40,354.20 L415.60,354.20 L415.80,354.20 L416.00,354.20 L416.20,354.20 L416.40,354.20 L416.60,354.20 L416.80,354.20 L417.00,354.20 L417.20,354.20 L417.40,354.20 L417.60,354.20 L417.80,354.20 L418.00,354.20 L418.20,354.20 L418.40,354.20 L418.60,354.20 L418.80,354.20 L419.00,354.20 L419.20,354.20 L419.40,354.20 L419.60,354.20 L419.80,354.20 L420.00,354.20 L420.20,354.20 L420.40,354.20 L420.60,354.20 L420.80,354.20 L421.00,354.20 L421.20,354.20 L421.40,354.20 L421.60,354.20 L421.80,354.20 L422.00,354.20 L422.20,354.20 L422.40,354.20 L422.60,354.20 L422.80,354.20 L423.00,354.20 L423.20,354.20 L423.40,354.20 L423.60,354.20 L423.80,354.20 L424.00,354.20 L424.20,354.20 L424.40,354.20 L424.60,354.20 L424.80,354.20 L425.00,354.20 L425.20,354.20 L425.40,354.20 L425.60,354.20 L425.80,354.20 L426.00,354.20 L426.20,354.20 L426.40,354.20 L426.60,354.20 L426.80,354.20 L427.00,354.20 L427.20,354.20 L427.40,354.20 L427.60,354.20 L427.80,354.20 L428.00,354.20 L428.20,354.20 L428.40,354.16 L428.60,354.05 L428.80,353.86 L429.00,353.62 L429.20,353.31 L429.40,352.96 L429.60,352.58 L429.80,352.19 L430.00,351.79 L430.20,351.39 L430.40,351.03 L430.60,350.70 L430.80,350.42 L431.00,350.21 L431.20,350.06 L431.40,349.98 L431.60,349.98 L431.80,350.06 L432.00,350.21 L432.20,350.42 L432.40,350.70 L432.60,351.03 L432.80,351.39 L433.00,351.79 L433.20,352.19 L433.40,352.58 L433.60,352.96 L433.80,353.31 L434.00,353.62 L434.20,353.86 L434.40,354.05 L434.60,354.16 L434.80,354.20 L435.00,354.20 L435.20,354.20 L435.40,354.20 L435.60,354.20 L435.80,354.20 L436.00,354.20 L436.20,354.20 L436.40,354.20 L436.60,354.20 L436.80,354.20 L437.00,354.20 L437.20,354.20 L437.40,354.20 L437.60,354.20 L437.80,354.20 L438.00,354.20 L438.20,354.20 L438.40,354.20 L438.60,354.20 L438.80,354.20 L439.00,354.19 L439.20,353.91 L439.40,353.26 L439.60,352.26 L439.80,350.96 L440.00,349.40 L440.20,347.63 L440.40,345.73 L440.60,343.75 L440.80,341.77 L441.00,339.87 L441.20,338.10 L441.40,336.54 L441.60,335.24 L441.80,334.25 L442.00,333.60 L442.20,333.31 L442.40,333.41 L442.60,333.88 L442.80,334.70 L443.00,335.85 L443.20,337.29 L443.40,338.96 L443.60,340.81 L443.80,342.76 L444.00,344.74 L444.20,346.69 L444.40,348.54 L444.60,350.21 L444.80,351.65 L445.00,352.80 L445.20,353.63 L445.40,354.09 L445.60,354.20 L445.80,354.20 L446.00,354.20 L446.20,354.20 L446.40,354.20 L446.60,354.20 L446.80,354.20 L447.00,354.20 L447.20,354.20 L447.40,354.20 L447.60,354.20 L447.80,354.20 L448.00,354.20 L448.20,354.20 L448.40,354.20 L448.60,354.20 L448.80,354.20 L449.00,354.20 L449.20,354.20 L449.40,354.20 L449.60,354.20 L449.80,354.08 L450.00,353.15 L450.20,351.31 L450.40,348.64 L450.60,345.23 L450.80,341.20 L451.00,336.70 L451.20,331.90 L451.40,326.96 L451.60,322.07 L451.80,317.40 L452.00,313.12 L452.20,309.38 L452.40,306.33 L452.60,304.06 L452.80,302.67 L453.00,302.20 L453.20,302.67 L453.40,304.06 L453.60,306.33 L453.80,309.38 L454.00,313.12 L454.20,317.40 L454.40,322.07 L454.60,326.96 L454.80,331.90 L455.00,336.70 L455.20,341.20 L455.40,345.23 L455.60,348.64 L455.80,351.31 L456.00,353.15 L456.20,354.08 L456.40,354.20 L456.60,354.20 L456.80,354.20 L457.00,354.20 L457.20,354.20 L457.40,354.20 L457.60,354.20 L457.80,354.20 L458.00,354.20 L458.20,354.20 L458.40,354.20 L458.60,354.20 L458.80,354.20 L459.00,354.20 L459.20,354.20 L459.40,354.20 L459.60,354.20 L459.80,354.20 L460.00,354.20 L460.20,354.20 L460.40,354.20 L460.60,353.95 L460.80,352.86 L461.00,350.94 L461.20,348.26 L461.40,344.92 L461.60,341.03 L461.80,336.75 L462.00,332.21 L462.20,327.59 L462.40,323.05 L462.60,318.77 L462.80,314.88 L463.00,311.54 L463.20,308.86 L463.40,306.94 L463.60,305.85 L463.80,305.63 L464.00,306.28 L464.20,307.80 L464.40,310.11 L464.60,313.13 L464.80,316.76 L465.00,320.87 L465.20,325.30 L465.40,329.90 L465.60,334.50 L465.80,338.93 L466.00,343.04 L466.20,346.67 L466.40,349.69 L466.60,352.00 L466.80,353.52 L467.00,354.17 L467.20,354.20 L467.40,354.20 L467.60,354.20 L467.80,354.20 L468.00,354.20 L468.20,354.20 L468.40,354.20 L468.60,354.20 L468.80,354.20 L469.00,354.20 L469.20,354.20 L469.40,354.20 L469.60,354.20 L469.80,354.20 L470.00,354.20 L470.20,354.20 L470.40,354.20 L470.60,354.20 L470.80,354.20 L471.00,354.20 L471.20,354.20 L471.40,353.78 L471.60,352.53 L471.80,350.50 L472.00,347.76 L472.20,344.40 L472.40,340.56 L472.60,336.37 L472.80,331.98 L473.00,327.55 L473.20,323.24 L473.40,319.21 L473.60,315.60 L473.80,312.53 L474.00,310.14 L474.20,308.49 L474.40,307.65 L474.60,307.65 L474.80,308.49 L475.00,310.14 L475.20,312.53 L475.40,315.60 L475.60,319.21 L475.80,323.24 L476.00,327.55 L476.20,331.98 L476.40,336.37 L476.60,340.56 L476.80,344.40 L477.00,347.76 L477.20,350.50 L477.40,352.53 L477.60,353.78 L477.80,354.20 L478.00,354.20 L478.20,354.20 L478.40,354.20 L478.60,354.20 L478.80,354.20 L479.00,354.20 L479.20,354.20 L479.40,354.20 L479.60,354.20 L479.80,354.20 L480.00,354.20 L480.20,354.20 L480.40,354.20 L480.60,354.20 L480.80,354.20 L481.00,354.20 L481.20,354.20 L481.40,354.20 L481.60,354.20 L481.80,354.20 L482.00,354.19 L482.20,354.00 L482.40,353.57 L482.60,352.92 L482.80,352.05 L483.00,351.02 L483.20,349.85 L483.40,348.59 L483.60,347.27 L483.80,345.96 L484.00,344.70 L484.20,343.53 L484.40,342.50 L484.60,341.63 L484.80,340.97 L485.00,340.54 L485.20,340.36 L485.40,340.42 L485.60,340.73 L485.80,341.28 L486.00,342.04 L486.20,342.99 L486.40,344.10 L486.60,345.32 L486.80,346.62 L487.00,347.93 L487.20,349.23 L487.40,350.45 L487.60,351.56 L487.80,352.51 L488.00,353.27 L488.20,353.82 L488.40,354.13 L488.60,354.20 L488.80,354.20 L489.00,354.20 L489.20,354.20 L489.40,354.20 L489.60,354.20 L489.80,354.20 L490.00,354.20 L490.20,354.20 L490.40,354.20 L490.60,354.20 L490.80,354.20 L491.00,354.20 L491.20,354.20 L491.40,354.20 L491.60,354.20 L491.80,354.20 L492.00,354.20 L492.20,354.20 L492.40,354.20 L492.60,354.20 L492.80,354.17 L493.00,353.95 L493.20,353.52 L493.40,352.90 L493.60,352.10 L493.80,351.16 L494.00,350.11 L494.20,348.99 L494.40,347.84 L494.60,346.69 L494.80,345.60 L495.00,344.60 L495.20,343.73 L495.40,343.01 L495.60,342.49 L495.80,342.16 L496.00,342.05 L496.20,342.16 L496.40,342.49 L496.60,343.01 L496.80,343.73 L497.00,344.60 L497.20,345.60 L497.40,346.69 L497.60,347.84 L497.80,348.99 L498.00,350.11 L498.20,351.16 L498.40,352.10 L498.60,352.90 L498.80,353.52 L499.00,353.95 L499.20,354.17 L499.40,354.20 L499.60,354.20 L499.80,354.20 L500.00,354.20 L500.20,354.20 L500.40,354.20 L500.60,354.20 L500.80,354.20 L501.00,354.20 L501.20,354.20 L501.40,354.20 L501.60,354.20 L501.80,354.20 L502.00,354.20 L502.20,354.20 L502.40,354.20 L502.60,354.20 L502.80,354.20 L503.00,354.20 L503.20,354.20 L503.40,354.20 L503.60,354.20" fill="none" stroke="#566080" stroke-width="0.9" stroke-linejoin="round"/>
<path d="M426.12,353.08 L426.66,353.00 L427.20,352.91 L427.74,352.82 L428.27,352.73 L428.81,352.63 L429.35,352.52 L429.89,352.41 L430.43,352.29 L430.96,352.17 L431.50,352.04 L432.04,351.91 L432.57,351.77 L433.11,351.62 L433.65,351.47 L434.19,351.32 L434.73,351.15 L435.26,350.98 L435.80,350.81 L436.34,350.62 L436.88,350.44 L437.41,350.24 L437.95,350.04 L438.49,349.84 L439.02,349.62 L439.56,349.41 L440.10,349.18 L440.64,348.96 L441.18,348.72 L441.71,348.49 L442.25,348.24 L442.79,348.00 L443.32,347.75 L443.86,347.49 L444.40,347.24 L444.94,346.98 L445.48,346.71 L446.01,346.45 L446.55,346.19 L447.09,345.92 L447.62,345.65 L448.16,345.38 L448.70,345.12 L449.24,344.85 L449.78,344.59 L450.31,344.33 L450.85,344.07 L451.39,343.81 L451.93,343.56 L452.46,343.31 L453.00,343.07 L453.54,342.84 L454.07,342.61 L454.61,342.38 L455.15,342.17 L455.69,341.96 L456.23,341.76 L456.76,341.57 L457.30,341.39 L457.84,341.22 L458.38,341.06 L458.91,340.91 L459.45,340.78 L459.99,340.65 L460.52,340.54 L461.06,340.44 L461.60,340.35 L462.14,340.28 L462.67,340.22 L463.21,340.17 L463.75,340.13 L464.29,340.11 L464.82,340.11 L465.36,340.11 L465.90,340.13 L466.44,340.17 L466.97,340.22 L467.51,340.28 L468.05,340.35 L468.59,340.44 L469.12,340.54 L469.66,340.65 L470.20,340.78 L470.74,340.91 L471.27,341.06 L471.81,341.22 L472.35,341.39 L472.89,341.57 L473.42,341.76 L473.96,341.96 L474.50,342.17 L475.04,342.38 L475.57,342.61 L476.11,342.84 L476.65,343.07 L477.19,343.31 L477.72,343.56 L478.26,343.81 L478.80,344.07 L479.34,344.33 L479.87,344.59 L480.41,344.85 L480.95,345.12 L481.49,345.38 L482.02,345.65 L482.56,345.92 L483.10,346.19 L483.64,346.45 L484.17,346.71 L484.71,346.98 L485.25,347.24 L485.79,347.49 L486.32,347.75 L486.86,348.00 L487.40,348.24 L487.94,348.49 L488.47,348.72 L489.01,348.96 L489.55,349.18 L490.09,349.41 L490.62,349.62 L491.16,349.84 L491.70,350.04 L492.24,350.24 L492.77,350.44 L493.31,350.62 L493.85,350.81 L494.39,350.98 L494.92,351.15 L495.46,351.32 L496.00,351.47 L496.54,351.62 L497.07,351.77 L497.61,351.91 L498.15,352.04 L498.69,352.17 L499.22,352.29 L499.76,352.41 L500.30,352.52 L500.84,352.63 L501.37,352.73 L501.91,352.82 L502.45,352.91 L502.99,353.00 L503.52,353.08" fill="none" stroke="#80b472" stroke-width="0.8"/>
</g>
<rect x="407.40" y="300.20" width="96.30" height="54.00" fill="none" stroke="#2a2a2a" stroke-width="0.9"/>
<rect x="407.40" y="291.30" width="96.30" height="8.90" fill="#aeaade" stroke="#2a2a2a" stroke-width="0.9"/>
<text x="455.55" y="298.05" font-size="6.4" text-anchor="middle" fill="#1e1e1e" textLength="12.20" lengthAdjust="spacingAndGlyphs" stroke="#1e1e1e" stroke-width="0.15">PTC</text>
<line x1="403.80" y1="354.20" x2="407.40" y2="354.20" stroke="#333" stroke-width="0.9"/>
<text x="402.30" y="356.50" font-size="6.6" text-anchor="end" fill="#1e1e1e" stroke="#1e1e1e" stroke-width="0.15">0</text>
<line x1="403.80" y1="329.90" x2="407.40" y2="329.90" stroke="#333" stroke-width="0.9"/>
<text x="402.30" y="332.20" font-size="6.6" text-anchor="end" fill="#1e1e1e" stroke="#1e1e1e" stroke-width="0.15">50</text>
<line x1="403.80" y1="305.60" x2="407.40" y2="305.60" stroke="#333" stroke-width="0.9"/>
<text x="402.30" y="307.90" font-size="6.6" text-anchor="end" fill="#1e1e1e" stroke="#1e1e1e" stroke-width="0.15">100</text>
<line x1="410.00" y1="354.20" x2="410.00" y2="357.00" stroke="#333" stroke-width="0.9"/>
<text x="410.00" y="366.50" font-size="6.6" text-anchor="middle" fill="#1e1e1e" stroke="#1e1e1e" stroke-width="0.15">−2</text>
<line x1="431.50" y1="354.20" x2="431.50" y2="357.00" stroke="#333" stroke-width="0.9"/>
<text x="431.50" y="366.50" font-size="6.6" text-anchor="middle" fill="#1e1e1e" stroke="#1e1e1e" stroke-width="0.15">0</text>
<line x1="453.00" y1="354.20" x2="453.00" y2="357.00" stroke="#333" stroke-width="0.9"/>
<text x="453.00" y="366.50" font-size="6.6" text-anchor="middle" fill="#1e1e1e" stroke="#1e1e1e" stroke-width="0.15">2</text>
<line x1="474.50" y1="354.20" x2="474.50" y2="357.00" stroke="#333" stroke-width="0.9"/>
<text x="474.50" y="366.50" font-size="6.6" text-anchor="middle" fill="#1e1e1e" stroke="#1e1e1e" stroke-width="0.15">4</text>
<line x1="496.00" y1="354.20" x2="496.00" y2="357.00" stroke="#333" stroke-width="0.9"/>
<text x="496.00" y="366.50" font-size="6.6" text-anchor="middle" fill="#1e1e1e" stroke="#1e1e1e" stroke-width="0.15">6</text>
<text x="455.40" y="375.70" font-size="6.6" text-anchor="middle" fill="#1e1e1e" textLength="32.60" lengthAdjust="spacingAndGlyphs" stroke="#1e1e1e" stroke-width="0.15">Bleed score</text>
<text x="0" y="0" font-size="6.6" fill="#1e1e1e" text-anchor="middle" transform="translate(389.00,289.60) rotate(-90)" textLength="21.5" lengthAdjust="spacingAndGlyphs" stroke="#1e1e1e" stroke-width="0.15">Percent</text>
<text x="353.90" y="260.50" font-size="6.4" text-anchor="start" fill="#5262a0" textLength="24.90" lengthAdjust="spacingAndGlyphs" stroke="#5262a0" stroke-width="0.08">Non PTC</text>
<text x="354.20" y="328.80" font-size="6.4" text-anchor="start" fill="#b83e50" textLength="10.80" lengthAdjust="spacingAndGlyphs" stroke="#b83e50" stroke-width="0.08">PTC</text>
<text x="443.7" y="217.2" font-size="6.4" fill="#1e1e1e" font-style="italic" textLength="23.3" lengthAdjust="spacingAndGlyphs" stroke="#1e1e1e" stroke-width="0.15">ENG+/–</text>
<text x="500.80" y="308.4" font-size="6.4" text-anchor="end" fill="#1e1e1e" stroke="#1e1e1e" stroke-width="0.15"><tspan font-style="italic">P</tspan> = .053</text>
<rect x="421.80" y="384.30" width="15.00" height="4.70" fill="#eceef5" stroke="#d6d9e6" stroke-width="0.5"/>
<line x1="421.80" y1="394.20" x2="436.80" y2="394.20" stroke="#555a66" stroke-width="1.0"/>
<line x1="421.80" y1="401.90" x2="436.80" y2="401.90" stroke="#7fb06f" stroke-width="1.2"/>
<text x="440.30" y="388.60" font-size="6.6" text-anchor="start" fill="#1e1e1e" textLength="21.60" lengthAdjust="spacingAndGlyphs" stroke="#1e1e1e" stroke-width="0.15">Percent</text>
<text x="440.30" y="396.60" font-size="6.6" text-anchor="start" fill="#1e1e1e" textLength="62.00" lengthAdjust="spacingAndGlyphs" stroke="#1e1e1e" stroke-width="0.15">K density bleed score</text>
<text x="440.30" y="404.30" font-size="6.6" text-anchor="start" fill="#1e1e1e" textLength="56.50" lengthAdjust="spacingAndGlyphs" stroke="#1e1e1e" stroke-width="0.15">Normal bleed score</text>
<text x="31.60" y="428.10" font-size="6.4" text-anchor="start" fill="#1e1e1e" stroke="#1e1e1e" stroke-width="0.15">N =</text>
<rect x="27.40" y="432.60" width="19.00" height="13.60" fill="#ffffff" stroke="#9a9a9a" stroke-width="0.8"/>
<rect x="46.40" y="432.60" width="57.90" height="13.60" fill="#e3e3e6" stroke="#9a9a9a" stroke-width="0.8"/>
<text x="36.90" y="441.70" font-size="6.6" text-anchor="middle" fill="#1e1e1e" stroke="#1e1e1e" stroke-width="0.15">75</text>
<text x="50.80" y="441.70" font-size="6.6" text-anchor="start" fill="#1e1e1e" stroke="#1e1e1e" stroke-width="0.15">Intention to treat</text>
<rect x="27.40" y="472.40" width="19.00" height="13.70" fill="#ffffff" stroke="#9a9a9a" stroke-width="0.8"/>
<rect x="46.40" y="472.40" width="60.60" height="13.70" fill="#e3e3e6" stroke="#9a9a9a" stroke-width="0.8"/>
<text x="36.90" y="481.55" font-size="6.6" text-anchor="middle" fill="#1e1e1e" stroke="#1e1e1e" stroke-width="0.15">64</text>
<text x="50.80" y="481.55" font-size="6.6" text-anchor="start" fill="#1e1e1e" stroke="#1e1e1e" stroke-width="0.15">Started treatment</text>
<rect x="27.40" y="506.40" width="19.00" height="13.30" fill="#ffffff" stroke="#9a9a9a" stroke-width="0.8"/>
<rect x="46.40" y="506.40" width="86.80" height="13.30" fill="#e3e3e6" stroke="#9a9a9a" stroke-width="0.8"/>
<text x="36.90" y="515.35" font-size="6.6" text-anchor="middle" fill="#1e1e1e" stroke="#1e1e1e" stroke-width="0.15">41</text>
<text x="50.20" y="515.35" font-size="6.6" text-anchor="start" fill="#1e1e1e" textLength="73.40" lengthAdjust="spacingAndGlyphs" stroke="#1e1e1e" stroke-width="0.15">Followed up, responses in</text>
<rect x="125.85" y="510.00" width="1.30" height="1.6" fill="#1a1a1a"/>
<rect x="125.85" y="512.20" width="1.30" height="2.90" fill="#1a1a1a"/>
<rect x="127.95" y="510.00" width="1.30" height="1.6" fill="#1a1a1a"/>
<rect x="127.95" y="512.20" width="1.30" height="2.90" fill="#1a1a1a"/>
<rect x="27.40" y="539.50" width="19.00" height="13.60" fill="#ffffff" stroke="#9a9a9a" stroke-width="0.8"/>
<rect x="46.40" y="539.50" width="41.10" height="13.60" fill="#e3e3e6" stroke="#9a9a9a" stroke-width="0.8"/>
<text x="36.90" y="548.60" font-size="6.6" text-anchor="middle" fill="#1e1e1e" stroke="#1e1e1e" stroke-width="0.15">26</text>
<text x="50.80" y="548.60" font-size="6.6" text-anchor="start" fill="#1e1e1e" stroke="#1e1e1e" stroke-width="0.15">Genotyped</text>
<rect x="27.40" y="573.80" width="19.00" height="13.60" fill="#ffffff" stroke="#9a9a9a" stroke-width="0.8"/>
<rect x="46.40" y="573.80" width="92.10" height="13.60" fill="#e3e3e6" stroke="#9a9a9a" stroke-width="0.8"/>
<text x="36.90" y="582.90" font-size="6.6" text-anchor="middle" fill="#1e1e1e" stroke="#1e1e1e" stroke-width="0.15">22</text>
<text x="50.80" y="582.90" font-size="6.6" text-anchor="start" fill="#1e1e1e" textLength="74.50" lengthAdjust="spacingAndGlyphs" stroke="#1e1e1e" stroke-width="0.15">Responses by genotype in</text>
<rect x="127.50" y="578.00" width="1.80" height="1.6" fill="#1a1a1a"/>
<rect x="127.50" y="580.20" width="1.80" height="2.20" fill="#1a1a1a"/>
<rect x="129.70" y="578.00" width="1.80" height="1.6" fill="#1a1a1a"/>
<rect x="129.70" y="580.20" width="1.80" height="2.20" fill="#1a1a1a"/>
<rect x="131.90" y="578.00" width="1.80" height="1.6" fill="#1a1a1a"/>
<rect x="131.90" y="580.20" width="1.80" height="2.20" fill="#1a1a1a"/>
<line x1="37.40" y1="446.20" x2="37.40" y2="472.40" stroke="#8a8a8a" stroke-width="0.9"/>
<line x1="37.40" y1="486.10" x2="37.40" y2="506.40" stroke="#8a8a8a" stroke-width="0.9"/>
<line x1="37.40" y1="519.70" x2="37.40" y2="539.50" stroke="#8a8a8a" stroke-width="0.9"/>
<line x1="37.40" y1="553.10" x2="37.40" y2="569.00" stroke="#8a8a8a" stroke-width="0.9"/>
<path d="M35.4,568.2 L39.4,568.2 L37.4,572.9 Z" fill="#8a8a8a"/>
<path d="M37.6,447.50 C39.5,454.90 50,457.40 69,457.40" fill="none" stroke="#8a8a8a" stroke-width="0.9"/>
<path d="M68.6,455.30 L74.6,457.40 L68.6,459.50 Z" fill="#9a9a9a"/>
<path d="M37.6,454.50 C39.5,463.50 50,466.00 69,466.00" fill="none" stroke="#8a8a8a" stroke-width="0.9"/>
<path d="M68.6,463.90 L74.6,466.00 L68.6,468.10 Z" fill="#9a9a9a"/>
<path d="M37.6,487.00 C39.5,496.80 50,499.30 69,499.30" fill="none" stroke="#8a8a8a" stroke-width="0.9"/>
<path d="M68.6,497.20 L74.6,499.30 L68.6,501.40 Z" fill="#9a9a9a"/>
<path d="M37.6,520.50 C39.5,529.20 50,531.70 69,531.70" fill="none" stroke="#8a8a8a" stroke-width="0.9"/>
<path d="M68.6,529.60 L74.6,531.70 L68.6,533.80 Z" fill="#9a9a9a"/>
<path d="M37.6,554.00 C39.5,562.70 50,565.20 69,565.20" fill="none" stroke="#8a8a8a" stroke-width="0.9"/>
<path d="M68.6,563.10 L74.6,565.20 L68.6,567.30 Z" fill="#9a9a9a"/>
<text x="80.40" y="458.80" font-size="6.6" text-anchor="start" fill="#1e1e1e" font-style="italic" stroke="#1e1e1e" stroke-width="0.15">4</text>
<text x="88.80" y="458.80" font-size="6.6" text-anchor="start" fill="#1e1e1e" font-style="italic" stroke="#1e1e1e" stroke-width="0.15">to trial</text>
<text x="80.40" y="468.80" font-size="6.6" text-anchor="start" fill="#1e1e1e" font-style="italic" stroke="#1e1e1e" stroke-width="0.15">7</text>
<text x="88.80" y="468.80" font-size="6.6" text-anchor="start" fill="#1e1e1e" font-style="italic" stroke="#1e1e1e" stroke-width="0.15">never started</text>
<text x="80.40" y="501.60" font-size="6.6" text-anchor="start" fill="#1e1e1e" font-style="italic" stroke="#1e1e1e" stroke-width="0.15">23</text>
<text x="92.70" y="501.60" font-size="6.6" text-anchor="start" fill="#1e1e1e" font-style="italic" stroke="#1e1e1e" stroke-width="0.15">no follow up</text>
<text x="80.40" y="534.10" font-size="6.6" text-anchor="start" fill="#1e1e1e" font-style="italic" stroke="#1e1e1e" stroke-width="0.15">15</text>
<text x="92.00" y="534.10" font-size="6.6" text-anchor="start" fill="#1e1e1e" font-style="italic" stroke="#1e1e1e" stroke-width="0.15">not genotyped</text>
<text x="80.40" y="567.60" font-size="6.6" text-anchor="start" fill="#1e1e1e" font-style="italic" stroke="#1e1e1e" stroke-width="0.15">4</text>
<text x="88.80" y="567.60" font-size="6.6" text-anchor="start" fill="#1e1e1e" font-style="italic" stroke="#1e1e1e" stroke-width="0.15">no gene identified</text>
<text x="92.10" y="598.00" font-size="6.4" text-anchor="middle" fill="#1e1e1e" textLength="58.80" lengthAdjust="spacingAndGlyphs" stroke="#1e1e1e" stroke-width="0.15">Treatment Flowchart</text>
<rect x="220.30" y="441.00" width="14.64" height="8.60" fill="#d9d9db" stroke="#9a9a9e" stroke-width="0.7"/>
<line x1="216.80" y1="445.30" x2="219.70" y2="445.30" stroke="#333" stroke-width="0.9"/>
<line x1="234.04" y1="445.30" x2="235.84" y2="445.30" stroke="#111" stroke-width="1.2"/>
<line x1="234.94" y1="444.10" x2="234.94" y2="446.50" stroke="#111" stroke-width="0.6"/>
<text x="214.20" y="447.60" font-size="6.6" text-anchor="end" fill="#1e1e1e" textLength="69.20" lengthAdjust="spacingAndGlyphs" stroke="#1e1e1e" stroke-width="0.15">Excellent (and objective)</text>
<rect x="220.30" y="457.40" width="98.46" height="8.60" fill="#d9d9db" stroke="#9a9a9e" stroke-width="0.7"/>
<line x1="216.80" y1="461.70" x2="219.70" y2="461.70" stroke="#333" stroke-width="0.9"/>
<line x1="317.86" y1="461.70" x2="319.66" y2="461.70" stroke="#111" stroke-width="1.2"/>
<line x1="318.76" y1="460.50" x2="318.76" y2="462.90" stroke="#111" stroke-width="0.6"/>
<text x="214.20" y="464.00" font-size="6.6" text-anchor="end" fill="#1e1e1e" stroke="#1e1e1e" stroke-width="0.15">Good improvement</text>
<rect x="220.30" y="473.70" width="29.88" height="8.60" fill="#d9d9db" stroke="#9a9a9e" stroke-width="0.7"/>
<line x1="216.80" y1="478.00" x2="219.70" y2="478.00" stroke="#333" stroke-width="0.9"/>
<line x1="249.28" y1="478.00" x2="251.08" y2="478.00" stroke="#111" stroke-width="1.2"/>
<line x1="250.18" y1="476.80" x2="250.18" y2="479.20" stroke="#111" stroke-width="0.6"/>
<text x="214.20" y="480.30" font-size="6.6" text-anchor="end" fill="#1e1e1e" textLength="38.00" lengthAdjust="spacingAndGlyphs" stroke="#1e1e1e" stroke-width="0.15">A little better</text>
<rect x="220.30" y="490.10" width="60.36" height="8.60" fill="#d9d9db" stroke="#9a9a9e" stroke-width="0.7"/>
<line x1="216.80" y1="494.40" x2="219.70" y2="494.40" stroke="#333" stroke-width="0.9"/>
<line x1="279.76" y1="494.40" x2="281.56" y2="494.40" stroke="#111" stroke-width="1.2"/>
<line x1="280.66" y1="493.20" x2="280.66" y2="495.60" stroke="#111" stroke-width="0.6"/>
<rect x="220.30" y="506.30" width="75.60" height="8.60" fill="#d9d9db" stroke="#9a9a9e" stroke-width="0.7"/>
<line x1="216.80" y1="510.60" x2="219.70" y2="510.60" stroke="#333" stroke-width="0.9"/>
<line x1="295.00" y1="510.60" x2="296.80" y2="510.60" stroke="#111" stroke-width="1.2"/>
<line x1="295.90" y1="509.40" x2="295.90" y2="511.80" stroke="#111" stroke-width="0.6"/>
<text x="214.20" y="512.90" font-size="6.6" text-anchor="end" fill="#1e1e1e" textLength="34.30" lengthAdjust="spacingAndGlyphs" stroke="#1e1e1e" stroke-width="0.15">No different</text>
<rect x="220.30" y="522.60" width="29.88" height="8.60" fill="#d9d9db" stroke="#9a9a9e" stroke-width="0.7"/>
<line x1="216.80" y1="526.90" x2="219.70" y2="526.90" stroke="#333" stroke-width="0.9"/>
<line x1="249.28" y1="526.90" x2="251.08" y2="526.90" stroke="#111" stroke-width="1.2"/>
<line x1="250.18" y1="525.70" x2="250.18" y2="528.10" stroke="#111" stroke-width="0.6"/>
<text x="214.20" y="529.20" font-size="6.6" text-anchor="end" fill="#1e1e1e" textLength="17.90" lengthAdjust="spacingAndGlyphs" stroke="#1e1e1e" stroke-width="0.15">Worse</text>
<text x="214.20" y="492.90" font-size="6.6" text-anchor="end" fill="#1e1e1e" textLength="48.20" lengthAdjust="spacingAndGlyphs" stroke="#1e1e1e" stroke-width="0.15">Minimal/possible</text>
<text x="214.20" y="499.80" font-size="6.6" text-anchor="end" fill="#1e1e1e" textLength="38.00" lengthAdjust="spacingAndGlyphs" stroke="#1e1e1e" stroke-width="0.15">improvement</text>
<line x1="219.70" y1="437.00" x2="219.70" y2="536.70" stroke="#222" stroke-width="1.0"/>
<line x1="219.20" y1="536.20" x2="328.20" y2="536.20" stroke="#222" stroke-width="1.0"/>
<line x1="219.70" y1="536.20" x2="219.70" y2="539.00" stroke="#333" stroke-width="0.9"/>
<text x="219.70" y="546.50" font-size="6.6" text-anchor="middle" fill="#1e1e1e" stroke="#1e1e1e" stroke-width="0.15">0</text>
<line x1="234.94" y1="536.20" x2="234.94" y2="539.00" stroke="#333" stroke-width="0.9"/>
<text x="234.94" y="546.50" font-size="6.6" text-anchor="middle" fill="#1e1e1e" stroke="#1e1e1e" stroke-width="0.15">2</text>
<line x1="250.18" y1="536.20" x2="250.18" y2="539.00" stroke="#333" stroke-width="0.9"/>
<text x="250.18" y="546.50" font-size="6.6" text-anchor="middle" fill="#1e1e1e" stroke="#1e1e1e" stroke-width="0.15">4</text>
<line x1="265.42" y1="536.20" x2="265.42" y2="539.00" stroke="#333" stroke-width="0.9"/>
<text x="265.42" y="546.50" font-size="6.6" text-anchor="middle" fill="#1e1e1e" stroke="#1e1e1e" stroke-width="0.15">6</text>
<line x1="280.66" y1="536.20" x2="280.66" y2="539.00" stroke="#333" stroke-width="0.9"/>
<text x="280.66" y="546.50" font-size="6.6" text-anchor="middle" fill="#1e1e1e" stroke="#1e1e1e" stroke-width="0.15">8</text>
<line x1="295.90" y1="536.20" x2="295.90" y2="539.00" stroke="#333" stroke-width="0.9"/>
<text x="295.90" y="546.50" font-size="6.6" text-anchor="middle" fill="#1e1e1e" stroke="#1e1e1e" stroke-width="0.15">10</text>
<line x1="311.14" y1="536.20" x2="311.14" y2="539.00" stroke="#333" stroke-width="0.9"/>
<text x="311.14" y="546.50" font-size="6.6" text-anchor="middle" fill="#1e1e1e" stroke="#1e1e1e" stroke-width="0.15">12</text>
<line x1="326.38" y1="536.20" x2="326.38" y2="539.00" stroke="#333" stroke-width="0.9"/>
<text x="326.38" y="546.50" font-size="6.6" text-anchor="middle" fill="#1e1e1e" stroke="#1e1e1e" stroke-width="0.15">14</text>
<text x="274.00" y="558.60" font-size="7.8" text-anchor="middle" fill="#1e1e1e" textLength="86.50" lengthAdjust="spacingAndGlyphs" stroke="#1e1e1e" stroke-width="0.15">Number of patients reporting</text>
<text x="274.00" y="568.20" font-size="7.8" text-anchor="middle" fill="#1e1e1e" textLength="29.50" lengthAdjust="spacingAndGlyphs" stroke="#1e1e1e" stroke-width="0.15">responses</text>
<text x="334.30" y="447.60" font-size="6.6" text-anchor="middle" fill="#1e1e1e" stroke="#1e1e1e" stroke-width="0.15">4</text>
<text x="334.30" y="464.00" font-size="6.6" text-anchor="middle" fill="#1e1e1e" stroke="#1e1e1e" stroke-width="0.15">3</text>
<text x="334.30" y="480.30" font-size="6.6" text-anchor="middle" fill="#1e1e1e" stroke="#1e1e1e" stroke-width="0.15">2</text>
<text x="334.30" y="496.70" font-size="6.6" text-anchor="middle" fill="#1e1e1e" stroke="#1e1e1e" stroke-width="0.15">1</text>
<text x="334.30" y="512.90" font-size="6.6" text-anchor="middle" fill="#1e1e1e" stroke="#1e1e1e" stroke-width="0.15">0</text>
<text x="334.30" y="529.20" font-size="6.6" text-anchor="middle" fill="#1e1e1e" stroke="#1e1e1e" stroke-width="0.15">−1</text>
<text x="0" y="0" font-size="6.8" fill="#1e1e1e" text-anchor="middle" transform="translate(344.0,487.3) rotate(90)" textLength="17.0" lengthAdjust="spacingAndGlyphs" stroke="#1e1e1e" stroke-width="0.15">Grade</text>
<line x1="386.40" y1="446.30" x2="386.40" y2="525.00" stroke="#222" stroke-width="1.0"/>
<line x1="385.90" y1="524.50" x2="510.00" y2="524.50" stroke="#222" stroke-width="1.0"/>
<line x1="383.50" y1="454.40" x2="386.40" y2="454.40" stroke="#333" stroke-width="0.9"/>
<text x="381.30" y="456.70" font-size="6.6" text-anchor="end" fill="#1e1e1e" stroke="#1e1e1e" stroke-width="0.15">4</text>
<line x1="383.50" y1="466.10" x2="386.40" y2="466.10" stroke="#333" stroke-width="0.9"/>
<text x="381.30" y="468.40" font-size="6.6" text-anchor="end" fill="#1e1e1e" stroke="#1e1e1e" stroke-width="0.15">3</text>
<line x1="383.50" y1="477.80" x2="386.40" y2="477.80" stroke="#333" stroke-width="0.9"/>
<text x="381.30" y="480.10" font-size="6.6" text-anchor="end" fill="#1e1e1e" stroke="#1e1e1e" stroke-width="0.15">2</text>
<line x1="383.50" y1="489.50" x2="386.40" y2="489.50" stroke="#333" stroke-width="0.9"/>
<text x="381.30" y="491.80" font-size="6.6" text-anchor="end" fill="#1e1e1e" stroke="#1e1e1e" stroke-width="0.15">1</text>
<line x1="383.50" y1="501.20" x2="386.40" y2="501.20" stroke="#333" stroke-width="0.9"/>
<text x="381.30" y="503.50" font-size="6.6" text-anchor="end" fill="#1e1e1e" stroke="#1e1e1e" stroke-width="0.15">0</text>
<line x1="383.50" y1="512.90" x2="386.40" y2="512.90" stroke="#333" stroke-width="0.9"/>
<text x="381.30" y="515.20" font-size="6.6" text-anchor="end" fill="#1e1e1e" stroke="#1e1e1e" stroke-width="0.15">−1</text>
<line x1="411.40" y1="524.50" x2="411.40" y2="527.30" stroke="#333" stroke-width="0.9"/>
<line x1="448.00" y1="524.50" x2="448.00" y2="527.30" stroke="#333" stroke-width="0.9"/>
<line x1="485.10" y1="524.50" x2="485.10" y2="527.30" stroke="#333" stroke-width="0.9"/>
<text x="0" y="0" font-size="6.9" fill="#1e1e1e" text-anchor="middle" transform="translate(369.0,485.2) rotate(-90)" textLength="76.0" lengthAdjust="spacingAndGlyphs" stroke="#1e1e1e" stroke-width="0.15">Graded reported response</text>
<line x1="411.40" y1="521.67" x2="411.40" y2="524.50" stroke="#222" stroke-width="0.8"/>
<line x1="448.00" y1="488.30" x2="448.00" y2="524.50" stroke="#222" stroke-width="0.8"/>
<line x1="485.10" y1="443.10" x2="485.10" y2="500.80" stroke="#222" stroke-width="0.8"/>
<path d="M411.40,442.93 C411.63,443.67 412.33,445.47 412.80,447.38 C413.27,449.29 413.77,452.25 414.20,454.40 C414.63,456.54 415.12,458.30 415.40,460.25 C415.68,462.20 416.07,464.44 415.90,466.10 C415.73,467.76 414.88,468.93 414.40,470.19 C413.92,471.46 413.13,472.63 413.00,473.70 C412.87,474.78 413.07,475.17 413.60,476.63 C414.13,478.09 415.25,480.34 416.20,482.48 C417.15,484.62 418.33,487.36 419.30,489.50 C420.27,491.64 421.32,493.59 422.00,495.35 C422.68,497.10 423.30,498.66 423.40,500.03 C423.50,501.39 423.30,502.17 422.60,503.54 C421.90,504.90 420.33,506.66 419.20,508.22 C418.07,509.78 416.77,511.34 415.80,512.90 C414.83,514.46 414.13,516.12 413.40,517.58 C412.67,519.04 411.73,520.99 411.40,521.67 L411.40,521.67 C411.07,520.99 410.13,519.04 409.40,517.58 C408.67,516.12 407.97,514.46 407.00,512.90 C406.03,511.34 404.73,509.78 403.60,508.22 C402.47,506.66 400.90,504.90 400.20,503.54 C399.50,502.17 399.30,501.39 399.40,500.03 C399.50,498.66 400.12,497.10 400.80,495.35 C401.48,493.59 402.53,491.64 403.50,489.50 C404.47,487.36 405.65,484.62 406.60,482.48 C407.55,480.34 408.67,478.09 409.20,476.63 C409.73,475.17 409.93,474.78 409.80,473.70 C409.67,472.63 408.88,471.46 408.40,470.19 C407.92,468.93 407.07,467.76 406.90,466.10 C406.73,464.44 407.12,462.20 407.40,460.25 C407.68,458.30 408.17,456.54 408.60,454.40 C409.03,452.25 409.53,449.29 410.00,447.38 C410.47,445.47 411.17,443.67 411.40,442.93 Z" fill="#f0edf6" stroke="#1f1f1f" stroke-width="0.8"/>
<path d="M448.00,492.19 C448.83,492.62 451.30,493.75 453.00,494.76 C454.70,495.78 457.03,497.20 458.20,498.27 C459.37,499.35 459.97,500.22 460.00,501.20 C460.03,502.18 458.97,503.15 458.40,504.12 C457.83,505.10 456.60,506.08 456.60,507.05 C456.60,508.02 457.82,509.00 458.40,509.97 C458.98,510.95 460.10,511.92 460.10,512.90 C460.10,513.88 459.58,514.75 458.40,515.83 C457.22,516.90 454.73,518.32 453.00,519.34 C451.27,520.35 448.83,521.48 448.00,521.91 L448.00,521.91 C447.17,521.48 444.73,520.35 443.00,519.34 C441.27,518.32 438.78,516.90 437.60,515.83 C436.42,514.75 435.90,513.88 435.90,512.90 C435.90,511.92 437.02,510.95 437.60,509.97 C438.18,509.00 439.40,508.02 439.40,507.05 C439.40,506.08 438.17,505.10 437.60,504.12 C437.03,503.15 435.97,502.18 436.00,501.20 C436.03,500.22 436.63,499.35 437.80,498.27 C438.97,497.20 441.30,495.78 443.00,494.76 C444.70,493.75 447.17,492.62 448.00,492.19 Z" fill="#f0edf6" stroke="#1f1f1f" stroke-width="0.8"/>
<path d="M485.10,448.55 C485.40,448.94 486.45,449.91 486.90,450.89 C487.35,451.87 487.78,453.23 487.80,454.40 C487.82,455.57 487.08,456.93 487.00,457.91 C486.92,458.88 486.45,459.37 487.30,460.25 C488.15,461.13 490.47,462.20 492.10,463.18 C493.73,464.15 497.10,465.12 497.10,466.10 C497.10,467.08 493.77,468.05 492.10,469.02 C490.43,470.00 487.87,470.97 487.10,471.95 C486.33,472.93 487.35,473.90 487.50,474.88 C487.65,475.85 488.03,476.83 488.00,477.80 C487.97,478.77 487.52,479.75 487.30,480.72 C487.08,481.70 486.63,482.67 486.70,483.65 C486.77,484.62 487.37,485.60 487.70,486.57 C488.03,487.55 488.73,488.52 488.70,489.50 C488.67,490.48 488.10,491.45 487.50,492.43 C486.90,493.40 485.50,494.86 485.10,495.35 L485.10,495.35 C484.70,494.86 483.30,493.40 482.70,492.43 C482.10,491.45 481.53,490.48 481.50,489.50 C481.47,488.52 482.17,487.55 482.50,486.57 C482.83,485.60 483.43,484.62 483.50,483.65 C483.57,482.67 483.12,481.70 482.90,480.72 C482.68,479.75 482.23,478.77 482.20,477.80 C482.17,476.83 482.55,475.85 482.70,474.88 C482.85,473.90 483.87,472.93 483.10,471.95 C482.33,470.97 479.77,470.00 478.10,469.02 C476.43,468.05 473.10,467.08 473.10,466.10 C473.10,465.12 476.47,464.15 478.10,463.18 C479.73,462.20 482.05,461.13 482.90,460.25 C483.75,459.37 483.28,458.88 483.20,457.91 C483.12,456.93 482.38,455.57 482.40,454.40 C482.42,453.23 482.85,451.87 483.30,450.89 C483.75,449.91 484.80,448.94 485.10,448.55 Z" fill="#f0edf6" stroke="#1f1f1f" stroke-width="0.8"/>
<line x1="401.40" y1="495.35" x2="421.40" y2="495.35" stroke="#1f1f1f" stroke-width="0.8" stroke-dasharray="2,1.4"/>
<line x1="408.90" y1="471.37" x2="413.90" y2="471.37" stroke="#1f1f1f" stroke-width="0.7" stroke-dasharray="1.2,1"/>
<line x1="400.20" y1="501.20" x2="422.60" y2="501.20" stroke="#1f1f1f" stroke-width="0.6" stroke-dasharray="0.8,1"/>
<line x1="404.20" y1="489.50" x2="418.60" y2="489.50" stroke="#1f1f1f" stroke-width="0.6" stroke-dasharray="0.8,1"/>
<line x1="436.80" y1="501.20" x2="459.20" y2="501.20" stroke="#1f1f1f" stroke-width="0.7" stroke-dasharray="0.8,1"/>
<line x1="436.80" y1="512.90" x2="459.20" y2="512.90" stroke="#1f1f1f" stroke-width="0.7" stroke-dasharray="0.8,1"/>
<line x1="440.40" y1="507.05" x2="455.60" y2="507.05" stroke="#1f1f1f" stroke-width="0.8" stroke-dasharray="1.6,1.4"/>
<line x1="474.10" y1="466.10" x2="496.10" y2="466.10" stroke="#1f1f1f" stroke-width="0.6" stroke-dasharray="0.8,1"/>
<circle cx="411.40" cy="454.40" r="2.6" fill="#c8b440" fill-opacity="0.22"/>
<circle cx="411.40" cy="454.40" r="1.0" fill="#8a7a30"/>
<circle cx="409.10" cy="466.10" r="2.6" fill="#4a4ab0" fill-opacity="0.22"/>
<circle cx="409.10" cy="466.10" r="1.0" fill="#2a2a4a"/>
<circle cx="413.70" cy="466.10" r="2.6" fill="#4a4ab0" fill-opacity="0.22"/>
<circle cx="413.70" cy="466.10" r="1.0" fill="#2a2a4a"/>
<circle cx="406.60" cy="489.50" r="2.6" fill="#9a5cc0" fill-opacity="0.22"/>
<circle cx="406.60" cy="489.50" r="1.0" fill="#5a3a7a"/>
<circle cx="411.60" cy="489.50" r="2.6" fill="#9a5cc0" fill-opacity="0.22"/>
<circle cx="411.60" cy="489.50" r="1.0" fill="#5a3a7a"/>
<circle cx="415.30" cy="489.50" r="2.6" fill="#9a5cc0" fill-opacity="0.22"/>
<circle cx="415.30" cy="489.50" r="1.0" fill="#5a3a7a"/>
<circle cx="402.20" cy="501.20" r="2.6" fill="#9a5cc0" fill-opacity="0.22"/>
<circle cx="402.20" cy="501.20" r="1.0" fill="#3a3a6a"/>
<circle cx="405.30" cy="501.20" r="2.6" fill="#9a5cc0" fill-opacity="0.22"/>
<circle cx="405.30" cy="501.20" r="1.0" fill="#3a3a6a"/>
<circle cx="408.50" cy="501.20" r="2.6" fill="#9a5cc0" fill-opacity="0.22"/>
<circle cx="408.50" cy="501.20" r="1.0" fill="#3a3a6a"/>
<circle cx="411.60" cy="501.20" r="2.6" fill="#4a4ab0" fill-opacity="0.22"/>
<circle cx="411.60" cy="501.20" r="1.0" fill="#3a3a6a"/>
<circle cx="414.70" cy="501.20" r="2.6" fill="#4a4ab0" fill-opacity="0.22"/>
<circle cx="414.70" cy="501.20" r="1.0" fill="#3a3a6a"/>
<circle cx="419.70" cy="501.20" r="2.6" fill="#c8b440" fill-opacity="0.22"/>
<circle cx="419.70" cy="501.20" r="1.0" fill="#8a7a30"/>
<circle cx="411.40" cy="512.90" r="2.6" fill="#9a5cc0" fill-opacity="0.22"/>
<circle cx="411.40" cy="512.90" r="1.0" fill="#5a3a7a"/>
<circle cx="448.00" cy="501.20" r="2.6" fill="#4a4ab0" fill-opacity="0.22"/>
<circle cx="448.00" cy="501.20" r="1.0" fill="#111"/>
<circle cx="448.00" cy="512.90" r="2.6" fill="#4a4ab0" fill-opacity="0.22"/>
<circle cx="448.00" cy="512.90" r="1.0" fill="#111"/>
<circle cx="485.10" cy="454.40" r="2.6" fill="#4a4ab0" fill-opacity="0.22"/>
<circle cx="485.10" cy="454.40" r="1.0" fill="#2a2a4a"/>
<circle cx="485.10" cy="477.80" r="2.6" fill="#4a4ab0" fill-opacity="0.22"/>
<circle cx="485.10" cy="477.80" r="1.0" fill="#2a2a4a"/>
<circle cx="485.10" cy="489.50" r="2.6" fill="#4a4ab0" fill-opacity="0.22"/>
<circle cx="485.10" cy="489.50" r="1.0" fill="#2a2a4a"/>
<circle cx="477.40" cy="466.10" r="2.6" fill="#4a4ab0" fill-opacity="0.22"/>
<circle cx="477.40" cy="466.10" r="1.0" fill="#2a2a4a"/>
<circle cx="481.20" cy="466.10" r="2.6" fill="#4a4ab0" fill-opacity="0.22"/>
<circle cx="481.20" cy="466.10" r="1.0" fill="#2a2a4a"/>
<circle cx="485.10" cy="466.10" r="2.6" fill="#4a4ab0" fill-opacity="0.22"/>
<circle cx="485.10" cy="466.10" r="1.0" fill="#2a2a4a"/>
<circle cx="489.00" cy="466.10" r="2.6" fill="#4a4ab0" fill-opacity="0.22"/>
<circle cx="489.00" cy="466.10" r="1.0" fill="#2a2a4a"/>
<circle cx="492.80" cy="466.10" r="2.6" fill="#4a4ab0" fill-opacity="0.22"/>
<circle cx="492.80" cy="466.10" r="1.0" fill="#2a2a4a"/>
<path d="M411.3,437.9 L411.3,433.2 L485.1,433.2 L485.1,437.9" fill="none" stroke="#333" stroke-width="0.9"/>
<text x="448.0" y="428.6" font-size="6.6" text-anchor="middle" fill="#1e1e1e" stroke="#1e1e1e" stroke-width="0.15"><tspan font-style="italic">P</tspan> = .030</text>
<text x="507.30" y="513.50" font-size="6.6" text-anchor="end" fill="#1e1e1e" textLength="38.70" lengthAdjust="spacingAndGlyphs" stroke="#1e1e1e" stroke-width="0.15">Kruskal-Wallis</text>
<text x="507.3" y="520.5" font-size="6.6" text-anchor="end" fill="#1e1e1e" stroke="#1e1e1e" stroke-width="0.15"><tspan font-style="italic">P</tspan> = .0070</text>
<text x="411.40" y="536.10" font-size="6.6" text-anchor="middle" fill="#5d6e9e" textLength="25.70" lengthAdjust="spacingAndGlyphs" stroke="#5d6e9e" stroke-width="0.08">Non-PTC</text>
<text x="411.40" y="543.80" font-size="6.6" text-anchor="middle" fill="#1e1e1e" textLength="25.50" lengthAdjust="spacingAndGlyphs" stroke="#1e1e1e" stroke-width="0.15">Missense</text>
<text x="448.00" y="536.10" font-size="6.6" text-anchor="middle" fill="#1e1e1e" textLength="17.00" lengthAdjust="spacingAndGlyphs" stroke="#1e1e1e" stroke-width="0.15">Splice</text>
<text x="485.10" y="536.10" font-size="6.6" text-anchor="middle" fill="#d04c62" textLength="11.50" lengthAdjust="spacingAndGlyphs" stroke="#d04c62" stroke-width="0.08">PTC</text>
<text x="485.10" y="544.10" font-size="6.6" text-anchor="middle" fill="#1e1e1e" textLength="29.50" lengthAdjust="spacingAndGlyphs" stroke="#1e1e1e" stroke-width="0.15">Frameshift</text>
<text x="485.10" y="551.50" font-size="6.6" text-anchor="middle" fill="#1e1e1e" textLength="27.50" lengthAdjust="spacingAndGlyphs" stroke="#1e1e1e" stroke-width="0.15">Nonsense</text>
<circle cx="431.9" cy="565.60" r="2.1" fill="#e4e2ea" stroke="#35303c" stroke-width="1.3"/>
<text x="437.30" y="567.90" font-size="6.5" fill="#1e1e1e" font-style="italic" textLength="22.50" lengthAdjust="spacingAndGlyphs" stroke="#1e1e1e" stroke-width="0.15">ACVRL1</text>
<text x="461.00" y="564.80" font-size="3.0" fill="#555" font-style="italic" stroke="#555" stroke-width="0.08">+/-</text>
<circle cx="431.9" cy="575.80" r="2.1" fill="#e4e2ea" stroke="#3c3c48" stroke-width="1.3"/>
<text x="437.30" y="578.10" font-size="6.5" fill="#1e1e1e" font-style="italic" textLength="13.60" lengthAdjust="spacingAndGlyphs" stroke="#1e1e1e" stroke-width="0.15">ENG</text>
<text x="451.50" y="575.00" font-size="3.0" fill="#555" font-style="italic" stroke="#555" stroke-width="0.08">+/-</text>
<circle cx="431.9" cy="585.40" r="2.1" fill="#e4e2ea" stroke="#4e4c1c" stroke-width="1.3"/>
<text x="437.30" y="587.70" font-size="6.5" fill="#1e1e1e" font-style="italic" textLength="21.00" lengthAdjust="spacingAndGlyphs" stroke="#1e1e1e" stroke-width="0.15">SMAD4</text>
<text x="459.50" y="584.60" font-size="3.0" fill="#555" font-style="italic" stroke="#555" stroke-width="0.08">+/-</text>
<rect x="0.5" y="0.5" width="519" height="606" fill="none" stroke="#5c5c5c" stroke-width="1"/>
</svg>
</body></html>
